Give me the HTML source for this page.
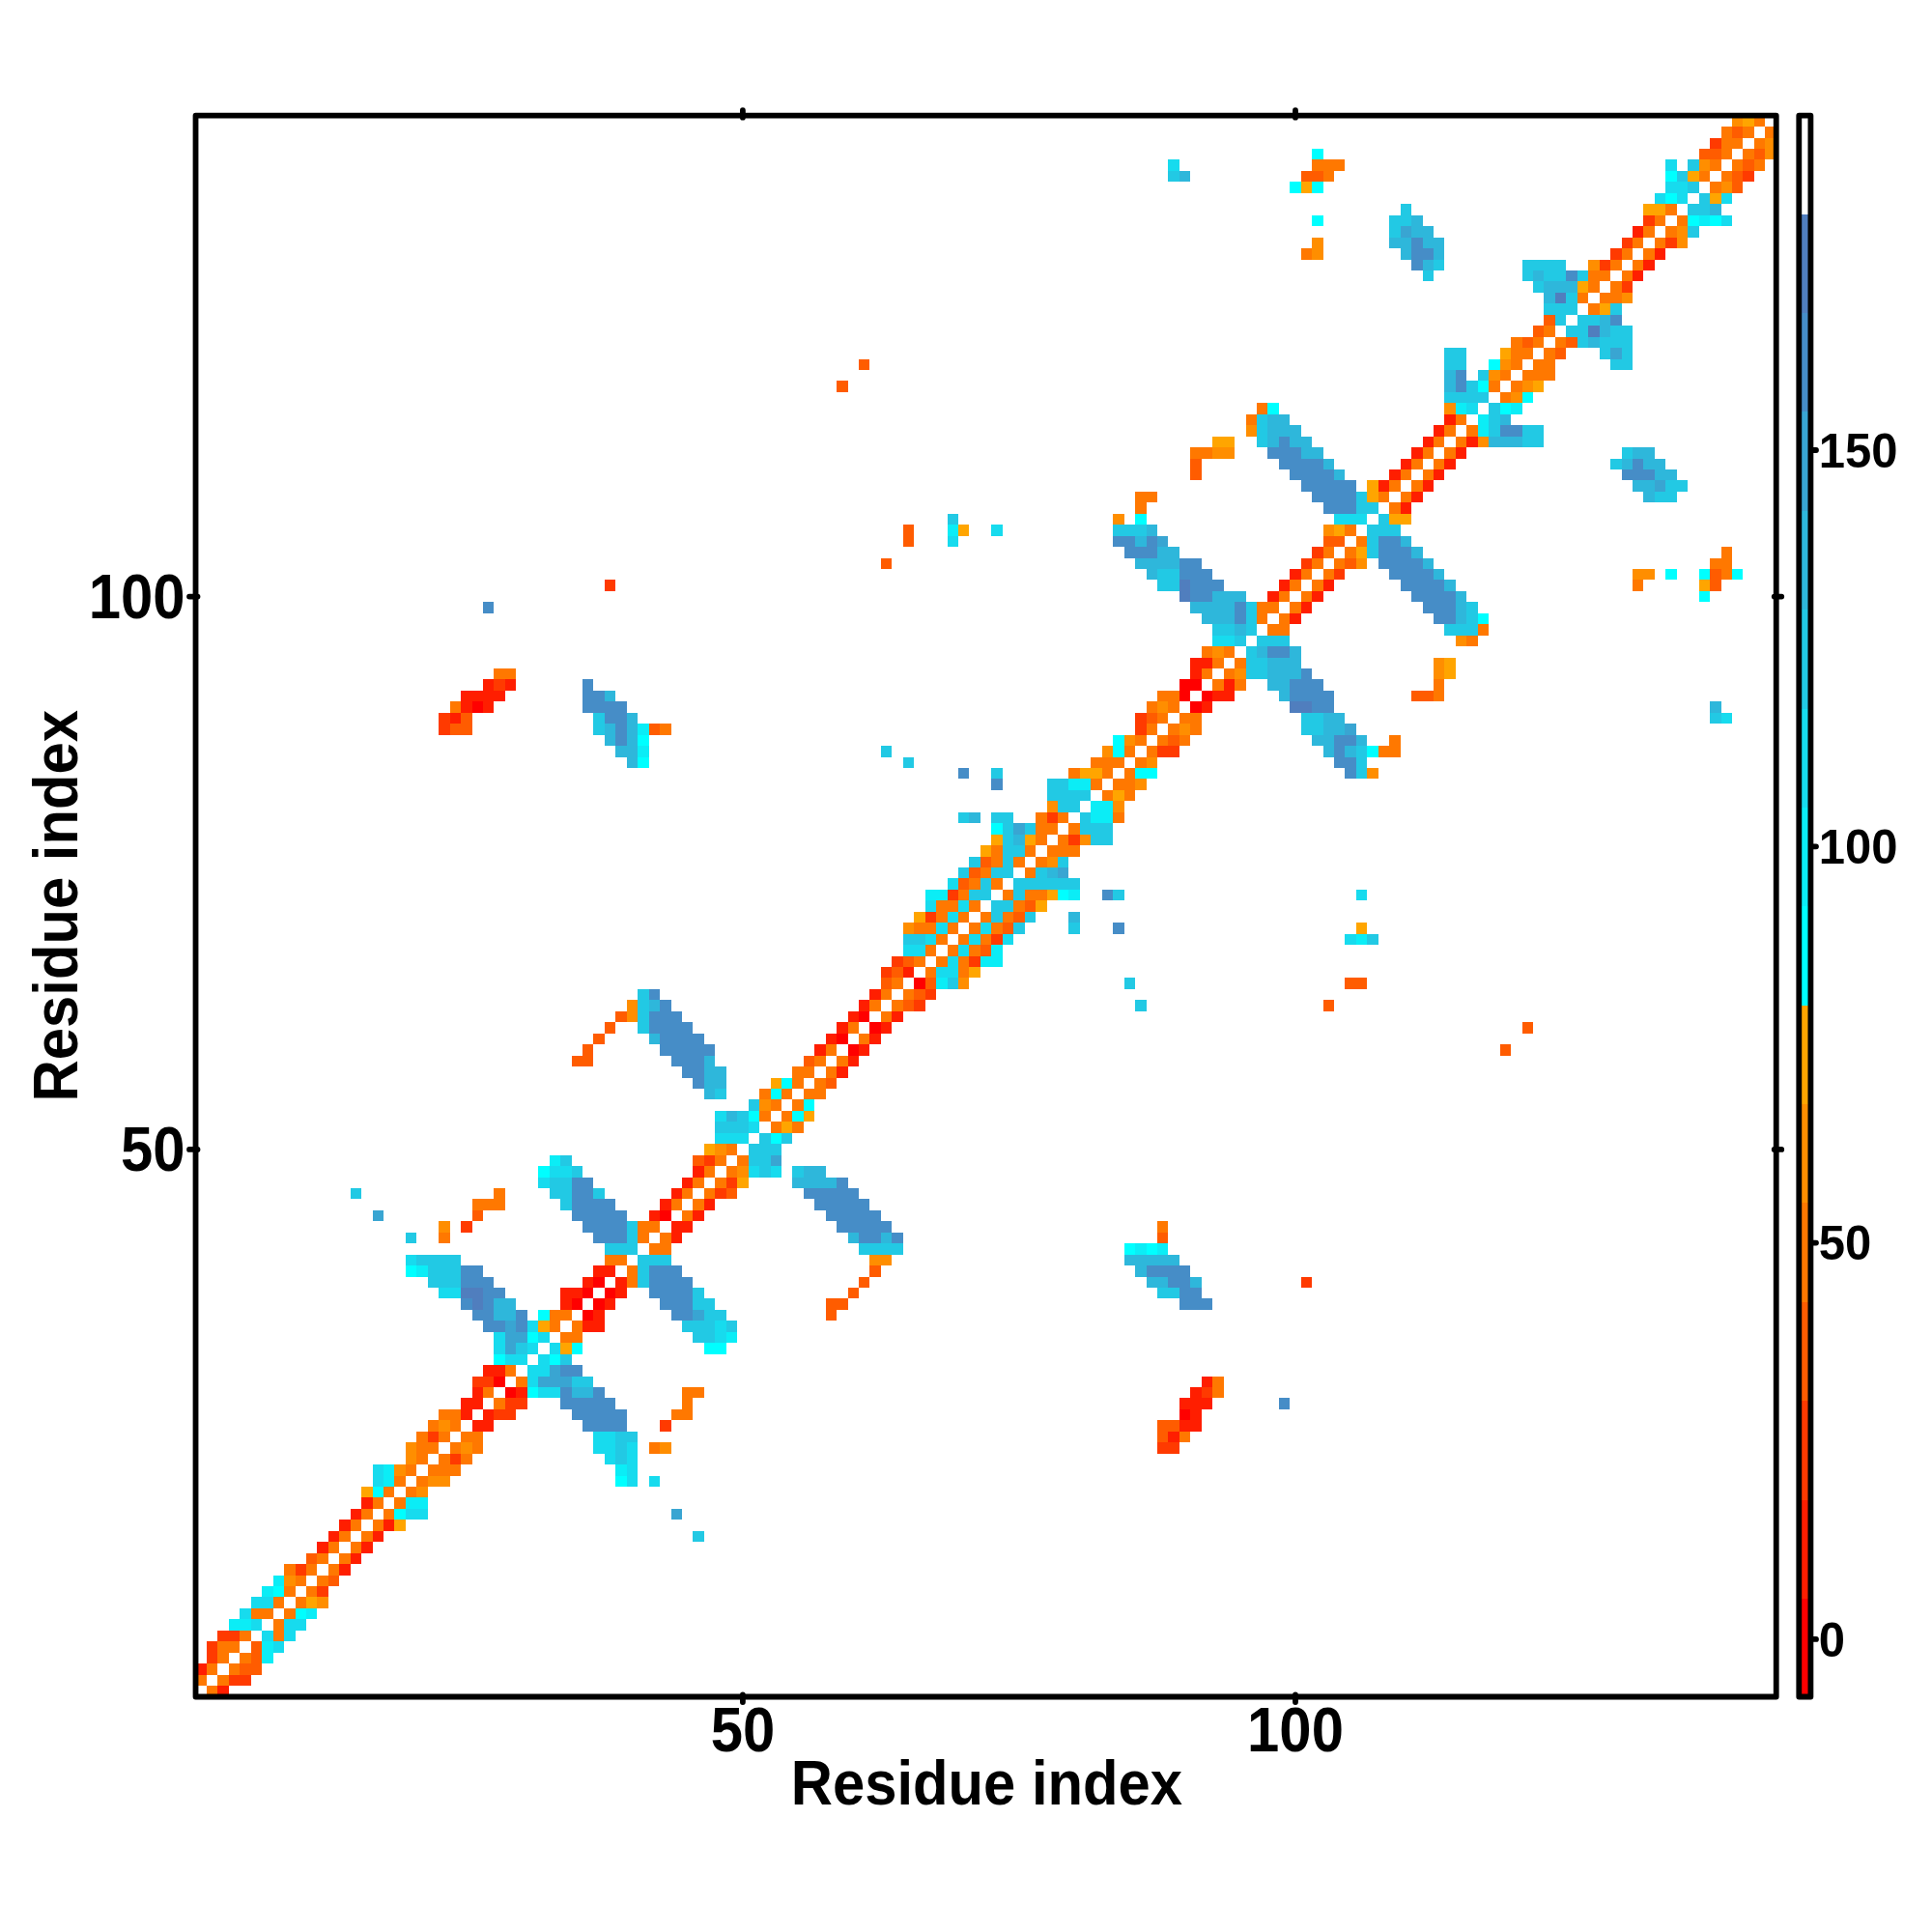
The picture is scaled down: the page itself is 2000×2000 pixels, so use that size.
<!DOCTYPE html>
<html><head><meta charset="utf-8"><style>
html,body{margin:0;padding:0;background:#fff;width:2000px;height:2000px;overflow:hidden}
svg{display:block}
</style></head><body>
<svg xmlns="http://www.w3.org/2000/svg" width="2000" height="2000" viewBox="0 0 2000 2000">
<rect width="2000" height="2000" fill="#fff"/>
<g shape-rendering="crispEdges"><rect x="213.96" y="1745.03" width="11.44" height="11.45" fill="#ff7800"/><rect x="225.40" y="1745.03" width="11.44" height="11.45" fill="#ff1e00"/><rect x="202.52" y="1733.59" width="11.44" height="11.45" fill="#ff7800"/><rect x="225.40" y="1733.59" width="11.44" height="11.45" fill="#ff7800"/><rect x="236.85" y="1733.59" width="22.88" height="11.45" fill="#ff3a00"/><rect x="202.52" y="1722.14" width="11.44" height="11.45" fill="#ff1e00"/><rect x="213.96" y="1722.14" width="11.44" height="11.45" fill="#ff7800"/><rect x="236.85" y="1722.14" width="11.44" height="11.45" fill="#ff7800"/><rect x="248.29" y="1722.14" width="22.88" height="11.45" fill="#ff5c00"/><rect x="213.96" y="1710.69" width="11.44" height="11.45" fill="#ff3a00"/><rect x="225.40" y="1710.69" width="11.44" height="11.45" fill="#ff7800"/><rect x="248.29" y="1710.69" width="11.44" height="11.45" fill="#ff7800"/><rect x="259.73" y="1710.69" width="11.44" height="11.45" fill="#ff5c00"/><rect x="271.17" y="1710.69" width="11.44" height="11.45" fill="#0bedf6"/><rect x="213.96" y="1699.25" width="11.44" height="11.45" fill="#ff3a00"/><rect x="225.40" y="1699.25" width="22.88" height="11.45" fill="#ff7800"/><rect x="259.73" y="1699.25" width="11.44" height="11.45" fill="#ff5c00"/><rect x="271.17" y="1699.25" width="11.44" height="11.45" fill="#0bedf6"/><rect x="282.61" y="1699.25" width="11.44" height="11.45" fill="#17dbee"/><rect x="225.40" y="1687.80" width="22.88" height="11.45" fill="#ff3a00"/><rect x="248.29" y="1687.80" width="11.44" height="11.45" fill="#ff7800"/><rect x="271.17" y="1687.80" width="11.44" height="11.45" fill="#17dbee"/><rect x="282.61" y="1687.80" width="11.44" height="11.45" fill="#ff7800"/><rect x="294.06" y="1687.80" width="11.44" height="11.45" fill="#17dbee"/><rect x="236.85" y="1676.36" width="22.88" height="11.45" fill="#0bedf6"/><rect x="259.73" y="1676.36" width="11.44" height="11.45" fill="#17dbee"/><rect x="282.61" y="1676.36" width="11.44" height="11.45" fill="#ff7800"/><rect x="294.06" y="1676.36" width="22.88" height="11.45" fill="#17dbee"/><rect x="248.29" y="1664.91" width="11.44" height="11.45" fill="#17dbee"/><rect x="259.73" y="1664.91" width="22.88" height="11.45" fill="#ff7800"/><rect x="294.06" y="1664.91" width="11.44" height="11.45" fill="#ff7800"/><rect x="305.50" y="1664.91" width="11.44" height="11.45" fill="#00ffff"/><rect x="316.94" y="1664.91" width="11.44" height="11.45" fill="#0bedf6"/><rect x="259.73" y="1653.46" width="22.88" height="11.45" fill="#17dbee"/><rect x="282.61" y="1653.46" width="11.44" height="11.45" fill="#ff7800"/><rect x="305.50" y="1653.46" width="11.44" height="11.45" fill="#ff7800"/><rect x="316.94" y="1653.46" width="11.44" height="11.45" fill="#ffa500"/><rect x="328.38" y="1653.46" width="11.44" height="11.45" fill="#ff8e00"/><rect x="271.17" y="1642.02" width="11.44" height="11.45" fill="#0bedf6"/><rect x="282.61" y="1642.02" width="11.44" height="11.45" fill="#00ffff"/><rect x="294.06" y="1642.02" width="11.44" height="11.45" fill="#ff7800"/><rect x="316.94" y="1642.02" width="11.44" height="11.45" fill="#ff7800"/><rect x="328.38" y="1642.02" width="11.44" height="11.45" fill="#ff3a00"/><rect x="282.61" y="1630.57" width="11.44" height="11.45" fill="#0bedf6"/><rect x="294.06" y="1630.57" width="11.44" height="11.45" fill="#ff8e00"/><rect x="305.50" y="1630.57" width="11.44" height="11.45" fill="#ff7800"/><rect x="328.38" y="1630.57" width="11.44" height="11.45" fill="#ff7800"/><rect x="339.82" y="1630.57" width="11.44" height="11.45" fill="#ff5c00"/><rect x="294.06" y="1619.13" width="11.44" height="11.45" fill="#ff7800"/><rect x="305.50" y="1619.13" width="11.44" height="11.45" fill="#ff3a00"/><rect x="316.94" y="1619.13" width="11.44" height="11.45" fill="#ff7800"/><rect x="339.82" y="1619.13" width="11.44" height="11.45" fill="#ff7800"/><rect x="351.27" y="1619.13" width="11.44" height="11.45" fill="#ff1e00"/><rect x="316.94" y="1607.68" width="11.44" height="11.45" fill="#ff5c00"/><rect x="328.38" y="1607.68" width="11.44" height="11.45" fill="#ff7800"/><rect x="351.27" y="1607.68" width="11.44" height="11.45" fill="#ff7800"/><rect x="362.71" y="1607.68" width="11.44" height="11.45" fill="#ff1e00"/><rect x="328.38" y="1596.23" width="11.44" height="11.45" fill="#ff1e00"/><rect x="339.82" y="1596.23" width="11.44" height="11.45" fill="#ff7800"/><rect x="362.71" y="1596.23" width="11.44" height="11.45" fill="#ff7800"/><rect x="374.15" y="1596.23" width="11.44" height="11.45" fill="#ff1e00"/><rect x="339.82" y="1584.79" width="11.44" height="11.45" fill="#ff1e00"/><rect x="351.27" y="1584.79" width="11.44" height="11.45" fill="#ff7800"/><rect x="374.15" y="1584.79" width="11.44" height="11.45" fill="#ff7800"/><rect x="385.59" y="1584.79" width="11.44" height="11.45" fill="#ff1e00"/><rect x="717.41" y="1584.79" width="11.44" height="11.45" fill="#22c9e4"/><rect x="351.27" y="1573.34" width="11.44" height="11.45" fill="#ff1e00"/><rect x="362.71" y="1573.34" width="11.44" height="11.45" fill="#ff7800"/><rect x="385.59" y="1573.34" width="11.44" height="11.45" fill="#ff7800"/><rect x="397.03" y="1573.34" width="11.44" height="11.45" fill="#ff1e00"/><rect x="408.48" y="1573.34" width="11.44" height="11.45" fill="#ffa500"/><rect x="362.71" y="1561.90" width="11.44" height="11.45" fill="#ff1e00"/><rect x="374.15" y="1561.90" width="11.44" height="11.45" fill="#ff7800"/><rect x="397.03" y="1561.90" width="11.44" height="11.45" fill="#ff7800"/><rect x="408.48" y="1561.90" width="11.44" height="11.45" fill="#00ffff"/><rect x="419.92" y="1561.90" width="22.88" height="11.45" fill="#17dbee"/><rect x="694.53" y="1561.90" width="11.44" height="11.45" fill="#39a5d2"/><rect x="374.15" y="1550.45" width="11.44" height="11.45" fill="#ff1e00"/><rect x="385.59" y="1550.45" width="11.44" height="11.45" fill="#ff7800"/><rect x="408.48" y="1550.45" width="11.44" height="11.45" fill="#ff7800"/><rect x="419.92" y="1550.45" width="22.88" height="11.45" fill="#0bedf6"/><rect x="374.15" y="1539.00" width="11.44" height="11.45" fill="#ffa500"/><rect x="385.59" y="1539.00" width="11.44" height="11.45" fill="#00ffff"/><rect x="397.03" y="1539.00" width="11.44" height="11.45" fill="#ff7800"/><rect x="419.92" y="1539.00" width="11.44" height="11.45" fill="#ff7800"/><rect x="431.36" y="1539.00" width="11.44" height="11.45" fill="#ff8e00"/><rect x="385.59" y="1527.56" width="11.44" height="11.45" fill="#17dbee"/><rect x="397.03" y="1527.56" width="11.44" height="11.45" fill="#0bedf6"/><rect x="408.48" y="1527.56" width="11.44" height="11.45" fill="#ff7800"/><rect x="431.36" y="1527.56" width="11.44" height="11.45" fill="#ff7800"/><rect x="442.80" y="1527.56" width="22.88" height="11.45" fill="#ff8e00"/><rect x="637.32" y="1527.56" width="11.44" height="11.45" fill="#00ffff"/><rect x="648.76" y="1527.56" width="11.44" height="11.45" fill="#17dbee"/><rect x="671.64" y="1527.56" width="11.44" height="11.45" fill="#17dbee"/><rect x="385.59" y="1516.11" width="11.44" height="11.45" fill="#17dbee"/><rect x="397.03" y="1516.11" width="11.44" height="11.45" fill="#0bedf6"/><rect x="408.48" y="1516.11" width="11.44" height="11.45" fill="#ff8e00"/><rect x="419.92" y="1516.11" width="11.44" height="11.45" fill="#ff7800"/><rect x="442.80" y="1516.11" width="34.33" height="11.45" fill="#ff7800"/><rect x="637.32" y="1516.11" width="11.44" height="11.45" fill="#0bedf6"/><rect x="648.76" y="1516.11" width="11.44" height="11.45" fill="#17dbee"/><rect x="419.92" y="1504.67" width="11.44" height="11.45" fill="#ff8e00"/><rect x="431.36" y="1504.67" width="11.44" height="11.45" fill="#ff7800"/><rect x="454.24" y="1504.67" width="11.44" height="11.45" fill="#ff7800"/><rect x="465.69" y="1504.67" width="11.44" height="11.45" fill="#ff3a00"/><rect x="477.13" y="1504.67" width="11.44" height="11.45" fill="#ff7800"/><rect x="625.88" y="1504.67" width="11.44" height="11.45" fill="#17dbee"/><rect x="637.32" y="1504.67" width="11.44" height="11.45" fill="#22c9e4"/><rect x="648.76" y="1504.67" width="11.44" height="11.45" fill="#17dbee"/><rect x="419.92" y="1493.22" width="11.44" height="11.45" fill="#ff8e00"/><rect x="431.36" y="1493.22" width="22.88" height="11.45" fill="#ff7800"/><rect x="465.69" y="1493.22" width="11.44" height="11.45" fill="#ff7800"/><rect x="477.13" y="1493.22" width="11.44" height="11.45" fill="#ff8e00"/><rect x="488.57" y="1493.22" width="11.44" height="11.45" fill="#ff7800"/><rect x="614.43" y="1493.22" width="22.88" height="11.45" fill="#17dbee"/><rect x="637.32" y="1493.22" width="11.44" height="11.45" fill="#22c9e4"/><rect x="648.76" y="1493.22" width="11.44" height="11.45" fill="#17dbee"/><rect x="671.64" y="1493.22" width="11.44" height="11.45" fill="#ff7800"/><rect x="683.09" y="1493.22" width="11.44" height="11.45" fill="#ff8e00"/><rect x="1197.97" y="1493.22" width="22.88" height="11.45" fill="#ff3a00"/><rect x="431.36" y="1481.77" width="11.44" height="11.45" fill="#ff7800"/><rect x="442.80" y="1481.77" width="11.44" height="11.45" fill="#ff3a00"/><rect x="454.24" y="1481.77" width="11.44" height="11.45" fill="#ff7800"/><rect x="477.13" y="1481.77" width="22.88" height="11.45" fill="#ff7800"/><rect x="614.43" y="1481.77" width="22.88" height="11.45" fill="#17dbee"/><rect x="637.32" y="1481.77" width="22.88" height="11.45" fill="#22c9e4"/><rect x="1197.97" y="1481.77" width="11.44" height="11.45" fill="#ff5c00"/><rect x="1209.42" y="1481.77" width="11.44" height="11.45" fill="#ff1e00"/><rect x="1220.86" y="1481.77" width="11.44" height="11.45" fill="#ff7800"/><rect x="442.80" y="1470.33" width="11.44" height="11.45" fill="#ff7800"/><rect x="454.24" y="1470.33" width="11.44" height="11.45" fill="#ff8e00"/><rect x="465.69" y="1470.33" width="11.44" height="11.45" fill="#ff7800"/><rect x="488.57" y="1470.33" width="22.88" height="11.45" fill="#ff1e00"/><rect x="602.99" y="1470.33" width="45.77" height="11.45" fill="#468dc7"/><rect x="683.09" y="1470.33" width="11.44" height="11.45" fill="#ff3a00"/><rect x="1197.97" y="1470.33" width="22.88" height="11.45" fill="#ff5c00"/><rect x="1220.86" y="1470.33" width="22.88" height="11.45" fill="#ff1e00"/><rect x="454.24" y="1458.88" width="22.88" height="11.45" fill="#ff7800"/><rect x="477.13" y="1458.88" width="11.44" height="11.45" fill="#ff1e00"/><rect x="500.01" y="1458.88" width="11.44" height="11.45" fill="#ff1e00"/><rect x="511.45" y="1458.88" width="22.88" height="11.45" fill="#ff3a00"/><rect x="591.55" y="1458.88" width="57.21" height="11.45" fill="#468dc7"/><rect x="694.53" y="1458.88" width="22.88" height="11.45" fill="#ff7800"/><rect x="1220.86" y="1458.88" width="11.44" height="11.45" fill="#ff0000"/><rect x="1232.30" y="1458.88" width="11.44" height="11.45" fill="#ff1e00"/><rect x="477.13" y="1447.44" width="22.88" height="11.45" fill="#ff1e00"/><rect x="511.45" y="1447.44" width="11.44" height="11.45" fill="#ff7800"/><rect x="522.90" y="1447.44" width="22.88" height="11.45" fill="#ff3a00"/><rect x="580.11" y="1447.44" width="57.21" height="11.45" fill="#468dc7"/><rect x="705.97" y="1447.44" width="11.44" height="11.45" fill="#ff7800"/><rect x="1220.86" y="1447.44" width="34.33" height="11.45" fill="#ff1e00"/><rect x="1323.84" y="1447.44" width="11.44" height="11.45" fill="#468dc7"/><rect x="488.57" y="1435.99" width="11.44" height="11.45" fill="#ff1e00"/><rect x="500.01" y="1435.99" width="11.44" height="11.45" fill="#ff7800"/><rect x="522.90" y="1435.99" width="11.44" height="11.45" fill="#ff0000"/><rect x="534.34" y="1435.99" width="11.44" height="11.45" fill="#ff1e00"/><rect x="545.78" y="1435.99" width="11.44" height="11.45" fill="#00ffff"/><rect x="557.22" y="1435.99" width="22.88" height="11.45" fill="#17dbee"/><rect x="580.11" y="1435.99" width="11.44" height="11.45" fill="#468dc7"/><rect x="591.55" y="1435.99" width="22.88" height="11.45" fill="#2eb7db"/><rect x="614.43" y="1435.99" width="11.44" height="11.45" fill="#468dc7"/><rect x="705.97" y="1435.99" width="22.88" height="11.45" fill="#ff7800"/><rect x="1232.30" y="1435.99" width="11.44" height="11.45" fill="#ff1e00"/><rect x="1243.74" y="1435.99" width="11.44" height="11.45" fill="#ff3a00"/><rect x="1255.18" y="1435.99" width="11.44" height="11.45" fill="#ff7800"/><rect x="488.57" y="1424.54" width="22.88" height="11.45" fill="#ff3a00"/><rect x="511.45" y="1424.54" width="11.44" height="11.45" fill="#ff0000"/><rect x="534.34" y="1424.54" width="11.44" height="11.45" fill="#ff7800"/><rect x="545.78" y="1424.54" width="11.44" height="11.45" fill="#17dbee"/><rect x="557.22" y="1424.54" width="34.33" height="11.45" fill="#39a5d2"/><rect x="591.55" y="1424.54" width="22.88" height="11.45" fill="#22c9e4"/><rect x="1243.74" y="1424.54" width="11.44" height="11.45" fill="#ff1e00"/><rect x="1255.18" y="1424.54" width="11.44" height="11.45" fill="#ff7800"/><rect x="500.01" y="1413.10" width="22.88" height="11.45" fill="#ff1e00"/><rect x="522.90" y="1413.10" width="11.44" height="11.45" fill="#ff7800"/><rect x="545.78" y="1413.10" width="22.88" height="11.45" fill="#17dbee"/><rect x="568.66" y="1413.10" width="11.44" height="11.45" fill="#39a5d2"/><rect x="580.11" y="1413.10" width="22.88" height="11.45" fill="#468dc7"/><rect x="511.45" y="1401.65" width="11.44" height="11.45" fill="#00ffff"/><rect x="522.90" y="1401.65" width="22.88" height="11.45" fill="#17dbee"/><rect x="557.22" y="1401.65" width="11.44" height="11.45" fill="#17dbee"/><rect x="568.66" y="1401.65" width="11.44" height="11.45" fill="#00ffff"/><rect x="580.11" y="1401.65" width="11.44" height="11.45" fill="#22c9e4"/><rect x="511.45" y="1390.21" width="11.44" height="11.45" fill="#17dbee"/><rect x="522.90" y="1390.21" width="11.44" height="11.45" fill="#39a5d2"/><rect x="534.34" y="1390.21" width="11.44" height="11.45" fill="#22c9e4"/><rect x="545.78" y="1390.21" width="11.44" height="11.45" fill="#17dbee"/><rect x="568.66" y="1390.21" width="11.44" height="11.45" fill="#17dbee"/><rect x="580.11" y="1390.21" width="11.44" height="11.45" fill="#ffa500"/><rect x="591.55" y="1390.21" width="11.44" height="11.45" fill="#00ffff"/><rect x="728.85" y="1390.21" width="22.88" height="11.45" fill="#00ffff"/><rect x="511.45" y="1378.76" width="11.44" height="11.45" fill="#17dbee"/><rect x="522.90" y="1378.76" width="22.88" height="11.45" fill="#39a5d2"/><rect x="545.78" y="1378.76" width="11.44" height="11.45" fill="#00ffff"/><rect x="557.22" y="1378.76" width="11.44" height="11.45" fill="#17dbee"/><rect x="580.11" y="1378.76" width="22.88" height="11.45" fill="#ff7800"/><rect x="717.41" y="1378.76" width="22.88" height="11.45" fill="#22c9e4"/><rect x="740.29" y="1378.76" width="11.44" height="11.45" fill="#17dbee"/><rect x="751.74" y="1378.76" width="11.44" height="11.45" fill="#0bedf6"/><rect x="500.01" y="1367.31" width="22.88" height="11.45" fill="#468dc7"/><rect x="522.90" y="1367.31" width="11.44" height="11.45" fill="#39a5d2"/><rect x="534.34" y="1367.31" width="11.44" height="11.45" fill="#468dc7"/><rect x="545.78" y="1367.31" width="11.44" height="11.45" fill="#17dbee"/><rect x="557.22" y="1367.31" width="11.44" height="11.45" fill="#ffa500"/><rect x="568.66" y="1367.31" width="11.44" height="11.45" fill="#ff7800"/><rect x="591.55" y="1367.31" width="11.44" height="11.45" fill="#ff7800"/><rect x="602.99" y="1367.31" width="22.88" height="11.45" fill="#ff1e00"/><rect x="705.97" y="1367.31" width="34.33" height="11.45" fill="#22c9e4"/><rect x="740.29" y="1367.31" width="11.44" height="11.45" fill="#17dbee"/><rect x="751.74" y="1367.31" width="11.44" height="11.45" fill="#22c9e4"/><rect x="488.57" y="1355.87" width="22.88" height="11.45" fill="#468dc7"/><rect x="511.45" y="1355.87" width="22.88" height="11.45" fill="#2eb7db"/><rect x="534.34" y="1355.87" width="11.44" height="11.45" fill="#468dc7"/><rect x="557.22" y="1355.87" width="11.44" height="11.45" fill="#00ffff"/><rect x="568.66" y="1355.87" width="22.88" height="11.45" fill="#ff7800"/><rect x="602.99" y="1355.87" width="11.44" height="11.45" fill="#ff0000"/><rect x="614.43" y="1355.87" width="11.44" height="11.45" fill="#ff1e00"/><rect x="694.53" y="1355.87" width="22.88" height="11.45" fill="#468dc7"/><rect x="717.41" y="1355.87" width="11.44" height="11.45" fill="#39a5d2"/><rect x="728.85" y="1355.87" width="22.88" height="11.45" fill="#22c9e4"/><rect x="854.71" y="1355.87" width="11.44" height="11.45" fill="#ff5c00"/><rect x="477.13" y="1344.42" width="11.44" height="11.45" fill="#468dc7"/><rect x="488.57" y="1344.42" width="11.44" height="11.45" fill="#507ebe"/><rect x="500.01" y="1344.42" width="11.44" height="11.45" fill="#468dc7"/><rect x="511.45" y="1344.42" width="22.88" height="11.45" fill="#2eb7db"/><rect x="580.11" y="1344.42" width="11.44" height="11.45" fill="#ff1e00"/><rect x="591.55" y="1344.42" width="11.44" height="11.45" fill="#ff0000"/><rect x="614.43" y="1344.42" width="11.44" height="11.45" fill="#ff0000"/><rect x="625.88" y="1344.42" width="11.44" height="11.45" fill="#ff1e00"/><rect x="683.09" y="1344.42" width="34.33" height="11.45" fill="#468dc7"/><rect x="717.41" y="1344.42" width="22.88" height="11.45" fill="#22c9e4"/><rect x="854.71" y="1344.42" width="22.88" height="11.45" fill="#ff5c00"/><rect x="1220.86" y="1344.42" width="34.33" height="11.45" fill="#468dc7"/><rect x="454.24" y="1332.98" width="22.88" height="11.45" fill="#17dbee"/><rect x="477.13" y="1332.98" width="22.88" height="11.45" fill="#507ebe"/><rect x="500.01" y="1332.98" width="22.88" height="11.45" fill="#468dc7"/><rect x="580.11" y="1332.98" width="22.88" height="11.45" fill="#ff1e00"/><rect x="602.99" y="1332.98" width="11.44" height="11.45" fill="#ff0000"/><rect x="625.88" y="1332.98" width="11.44" height="11.45" fill="#ff0000"/><rect x="637.32" y="1332.98" width="11.44" height="11.45" fill="#ff1e00"/><rect x="671.64" y="1332.98" width="45.77" height="11.45" fill="#468dc7"/><rect x="717.41" y="1332.98" width="11.44" height="11.45" fill="#22c9e4"/><rect x="877.60" y="1332.98" width="11.44" height="11.45" fill="#ff5c00"/><rect x="1197.97" y="1332.98" width="22.88" height="11.45" fill="#22c9e4"/><rect x="1220.86" y="1332.98" width="22.88" height="11.45" fill="#468dc7"/><rect x="442.80" y="1321.53" width="34.33" height="11.45" fill="#22c9e4"/><rect x="477.13" y="1321.53" width="34.33" height="11.45" fill="#468dc7"/><rect x="602.99" y="1321.53" width="11.44" height="11.45" fill="#ff1e00"/><rect x="614.43" y="1321.53" width="11.44" height="11.45" fill="#ff0000"/><rect x="637.32" y="1321.53" width="11.44" height="11.45" fill="#ff1e00"/><rect x="648.76" y="1321.53" width="11.44" height="11.45" fill="#ff7800"/><rect x="660.20" y="1321.53" width="11.44" height="11.45" fill="#22c9e4"/><rect x="671.64" y="1321.53" width="45.77" height="11.45" fill="#468dc7"/><rect x="889.04" y="1321.53" width="11.44" height="11.45" fill="#ff5c00"/><rect x="1186.53" y="1321.53" width="22.88" height="11.45" fill="#2eb7db"/><rect x="1209.42" y="1321.53" width="22.88" height="11.45" fill="#468dc7"/><rect x="1232.30" y="1321.53" width="11.44" height="11.45" fill="#2eb7db"/><rect x="1346.72" y="1321.53" width="11.44" height="11.45" fill="#ff3a00"/><rect x="419.92" y="1310.08" width="11.44" height="11.45" fill="#00ffff"/><rect x="431.36" y="1310.08" width="11.44" height="11.45" fill="#0bedf6"/><rect x="442.80" y="1310.08" width="34.33" height="11.45" fill="#22c9e4"/><rect x="477.13" y="1310.08" width="22.88" height="11.45" fill="#468dc7"/><rect x="614.43" y="1310.08" width="22.88" height="11.45" fill="#ff1e00"/><rect x="648.76" y="1310.08" width="11.44" height="11.45" fill="#ff7800"/><rect x="660.20" y="1310.08" width="11.44" height="11.45" fill="#22c9e4"/><rect x="671.64" y="1310.08" width="34.33" height="11.45" fill="#468dc7"/><rect x="900.48" y="1310.08" width="11.44" height="11.45" fill="#ff5c00"/><rect x="1175.09" y="1310.08" width="11.44" height="11.45" fill="#2eb7db"/><rect x="1186.53" y="1310.08" width="45.77" height="11.45" fill="#468dc7"/><rect x="419.92" y="1298.64" width="11.44" height="11.45" fill="#17dbee"/><rect x="431.36" y="1298.64" width="45.77" height="11.45" fill="#22c9e4"/><rect x="625.88" y="1298.64" width="22.88" height="11.45" fill="#ff7800"/><rect x="660.20" y="1298.64" width="34.33" height="11.45" fill="#22c9e4"/><rect x="900.48" y="1298.64" width="22.88" height="11.45" fill="#ff8e00"/><rect x="1163.65" y="1298.64" width="57.21" height="11.45" fill="#2eb7db"/><rect x="625.88" y="1287.19" width="34.33" height="11.45" fill="#22c9e4"/><rect x="671.64" y="1287.19" width="22.88" height="11.45" fill="#ff7800"/><rect x="889.04" y="1287.19" width="45.77" height="11.45" fill="#22c9e4"/><rect x="1163.65" y="1287.19" width="11.44" height="11.45" fill="#00ffff"/><rect x="1175.09" y="1287.19" width="11.44" height="11.45" fill="#0bedf6"/><rect x="1186.53" y="1287.19" width="11.44" height="11.45" fill="#00ffff"/><rect x="1197.97" y="1287.19" width="11.44" height="11.45" fill="#0bedf6"/><rect x="419.92" y="1275.75" width="11.44" height="11.45" fill="#22c9e4"/><rect x="454.24" y="1275.75" width="11.44" height="11.45" fill="#ff7800"/><rect x="614.43" y="1275.75" width="34.33" height="11.45" fill="#468dc7"/><rect x="648.76" y="1275.75" width="11.44" height="11.45" fill="#22c9e4"/><rect x="660.20" y="1275.75" width="11.44" height="11.45" fill="#ff7800"/><rect x="683.09" y="1275.75" width="11.44" height="11.45" fill="#ff7800"/><rect x="694.53" y="1275.75" width="11.44" height="11.45" fill="#ff1e00"/><rect x="877.60" y="1275.75" width="11.44" height="11.45" fill="#2eb7db"/><rect x="889.04" y="1275.75" width="22.88" height="11.45" fill="#468dc7"/><rect x="911.92" y="1275.75" width="11.44" height="11.45" fill="#2eb7db"/><rect x="923.37" y="1275.75" width="11.44" height="11.45" fill="#468dc7"/><rect x="1197.97" y="1275.75" width="11.44" height="11.45" fill="#ff5c00"/><rect x="454.24" y="1264.30" width="11.44" height="11.45" fill="#ff8e00"/><rect x="477.13" y="1264.30" width="11.44" height="11.45" fill="#ff3a00"/><rect x="602.99" y="1264.30" width="45.77" height="11.45" fill="#468dc7"/><rect x="648.76" y="1264.30" width="11.44" height="11.45" fill="#22c9e4"/><rect x="660.20" y="1264.30" width="22.88" height="11.45" fill="#ff7800"/><rect x="694.53" y="1264.30" width="22.88" height="11.45" fill="#ff1e00"/><rect x="866.16" y="1264.30" width="57.21" height="11.45" fill="#468dc7"/><rect x="1197.97" y="1264.30" width="11.44" height="11.45" fill="#ff7800"/><rect x="385.59" y="1252.85" width="11.44" height="11.45" fill="#39a5d2"/><rect x="488.57" y="1252.85" width="11.44" height="11.45" fill="#ff5c00"/><rect x="591.55" y="1252.85" width="57.21" height="11.45" fill="#468dc7"/><rect x="671.64" y="1252.85" width="11.44" height="11.45" fill="#ff1e00"/><rect x="683.09" y="1252.85" width="11.44" height="11.45" fill="#ff0000"/><rect x="705.97" y="1252.85" width="11.44" height="11.45" fill="#ff7800"/><rect x="717.41" y="1252.85" width="11.44" height="11.45" fill="#ff1e00"/><rect x="854.71" y="1252.85" width="57.21" height="11.45" fill="#468dc7"/><rect x="488.57" y="1241.41" width="34.33" height="11.45" fill="#ff7800"/><rect x="580.11" y="1241.41" width="11.44" height="11.45" fill="#22c9e4"/><rect x="591.55" y="1241.41" width="45.77" height="11.45" fill="#468dc7"/><rect x="683.09" y="1241.41" width="11.44" height="11.45" fill="#ff1e00"/><rect x="694.53" y="1241.41" width="11.44" height="11.45" fill="#ff7800"/><rect x="717.41" y="1241.41" width="11.44" height="11.45" fill="#ff7800"/><rect x="728.85" y="1241.41" width="11.44" height="11.45" fill="#ff1e00"/><rect x="843.27" y="1241.41" width="57.21" height="11.45" fill="#468dc7"/><rect x="362.71" y="1229.96" width="11.44" height="11.45" fill="#22c9e4"/><rect x="511.45" y="1229.96" width="11.44" height="11.45" fill="#ff7800"/><rect x="568.66" y="1229.96" width="22.88" height="11.45" fill="#22c9e4"/><rect x="591.55" y="1229.96" width="22.88" height="11.45" fill="#468dc7"/><rect x="614.43" y="1229.96" width="11.44" height="11.45" fill="#22c9e4"/><rect x="694.53" y="1229.96" width="11.44" height="11.45" fill="#ff1e00"/><rect x="705.97" y="1229.96" width="11.44" height="11.45" fill="#ff7800"/><rect x="728.85" y="1229.96" width="11.44" height="11.45" fill="#ff7800"/><rect x="740.29" y="1229.96" width="11.44" height="11.45" fill="#ff3a00"/><rect x="751.74" y="1229.96" width="11.44" height="11.45" fill="#ff5c00"/><rect x="831.83" y="1229.96" width="57.21" height="11.45" fill="#468dc7"/><rect x="557.22" y="1218.52" width="11.44" height="11.45" fill="#17dbee"/><rect x="568.66" y="1218.52" width="22.88" height="11.45" fill="#22c9e4"/><rect x="591.55" y="1218.52" width="22.88" height="11.45" fill="#468dc7"/><rect x="705.97" y="1218.52" width="11.44" height="11.45" fill="#ff1e00"/><rect x="717.41" y="1218.52" width="11.44" height="11.45" fill="#ff7800"/><rect x="740.29" y="1218.52" width="11.44" height="11.45" fill="#ff7800"/><rect x="751.74" y="1218.52" width="11.44" height="11.45" fill="#ff3a00"/><rect x="763.18" y="1218.52" width="11.44" height="11.45" fill="#ffa500"/><rect x="820.39" y="1218.52" width="45.77" height="11.45" fill="#2eb7db"/><rect x="866.16" y="1218.52" width="11.44" height="11.45" fill="#468dc7"/><rect x="557.22" y="1207.07" width="11.44" height="11.45" fill="#00ffff"/><rect x="568.66" y="1207.07" width="22.88" height="11.45" fill="#17dbee"/><rect x="591.55" y="1207.07" width="11.44" height="11.45" fill="#22c9e4"/><rect x="717.41" y="1207.07" width="11.44" height="11.45" fill="#ff1e00"/><rect x="728.85" y="1207.07" width="11.44" height="11.45" fill="#ff7800"/><rect x="751.74" y="1207.07" width="11.44" height="11.45" fill="#ff7800"/><rect x="763.18" y="1207.07" width="11.44" height="11.45" fill="#ff8e00"/><rect x="774.62" y="1207.07" width="11.44" height="11.45" fill="#17dbee"/><rect x="786.06" y="1207.07" width="11.44" height="11.45" fill="#22c9e4"/><rect x="797.50" y="1207.07" width="11.44" height="11.45" fill="#17dbee"/><rect x="820.39" y="1207.07" width="11.44" height="11.45" fill="#22c9e4"/><rect x="831.83" y="1207.07" width="22.88" height="11.45" fill="#2eb7db"/><rect x="568.66" y="1195.62" width="11.44" height="11.45" fill="#0bedf6"/><rect x="580.11" y="1195.62" width="11.44" height="11.45" fill="#22c9e4"/><rect x="717.41" y="1195.62" width="11.44" height="11.45" fill="#ff5c00"/><rect x="728.85" y="1195.62" width="11.44" height="11.45" fill="#ff3a00"/><rect x="740.29" y="1195.62" width="11.44" height="11.45" fill="#ff7800"/><rect x="763.18" y="1195.62" width="11.44" height="11.45" fill="#ff7800"/><rect x="774.62" y="1195.62" width="22.88" height="11.45" fill="#22c9e4"/><rect x="797.50" y="1195.62" width="11.44" height="11.45" fill="#39a5d2"/><rect x="728.85" y="1184.18" width="11.44" height="11.45" fill="#ffa500"/><rect x="740.29" y="1184.18" width="11.44" height="11.45" fill="#ff8e00"/><rect x="751.74" y="1184.18" width="11.44" height="11.45" fill="#ff7800"/><rect x="774.62" y="1184.18" width="34.33" height="11.45" fill="#22c9e4"/><rect x="740.29" y="1172.73" width="34.33" height="11.45" fill="#17dbee"/><rect x="786.06" y="1172.73" width="11.44" height="11.45" fill="#22c9e4"/><rect x="797.50" y="1172.73" width="11.44" height="11.45" fill="#00ffff"/><rect x="808.95" y="1172.73" width="11.44" height="11.45" fill="#22c9e4"/><rect x="740.29" y="1161.29" width="34.33" height="11.45" fill="#22c9e4"/><rect x="774.62" y="1161.29" width="11.44" height="11.45" fill="#17dbee"/><rect x="797.50" y="1161.29" width="11.44" height="11.45" fill="#ff7800"/><rect x="808.95" y="1161.29" width="11.44" height="11.45" fill="#ffa500"/><rect x="820.39" y="1161.29" width="11.44" height="11.45" fill="#ff7800"/><rect x="740.29" y="1149.84" width="11.44" height="11.45" fill="#17dbee"/><rect x="751.74" y="1149.84" width="11.44" height="11.45" fill="#2eb7db"/><rect x="763.18" y="1149.84" width="11.44" height="11.45" fill="#22c9e4"/><rect x="774.62" y="1149.84" width="11.44" height="11.45" fill="#00ffff"/><rect x="786.06" y="1149.84" width="11.44" height="11.45" fill="#ff7800"/><rect x="808.95" y="1149.84" width="11.44" height="11.45" fill="#ff7800"/><rect x="820.39" y="1149.84" width="11.44" height="11.45" fill="#00ffff"/><rect x="831.83" y="1149.84" width="11.44" height="11.45" fill="#ffa500"/><rect x="774.62" y="1138.39" width="11.44" height="11.45" fill="#22c9e4"/><rect x="786.06" y="1138.39" width="11.44" height="11.45" fill="#ff8e00"/><rect x="797.50" y="1138.39" width="11.44" height="11.45" fill="#ff7800"/><rect x="820.39" y="1138.39" width="11.44" height="11.45" fill="#ff7800"/><rect x="831.83" y="1138.39" width="11.44" height="11.45" fill="#00ffff"/><rect x="728.85" y="1126.95" width="11.44" height="11.45" fill="#2eb7db"/><rect x="740.29" y="1126.95" width="11.44" height="11.45" fill="#22c9e4"/><rect x="786.06" y="1126.95" width="11.44" height="11.45" fill="#ff7800"/><rect x="797.50" y="1126.95" width="11.44" height="11.45" fill="#00ffff"/><rect x="808.95" y="1126.95" width="11.44" height="11.45" fill="#ff7800"/><rect x="831.83" y="1126.95" width="22.88" height="11.45" fill="#ff7800"/><rect x="717.41" y="1115.50" width="11.44" height="11.45" fill="#468dc7"/><rect x="728.85" y="1115.50" width="22.88" height="11.45" fill="#2eb7db"/><rect x="797.50" y="1115.50" width="11.44" height="11.45" fill="#ffa500"/><rect x="808.95" y="1115.50" width="11.44" height="11.45" fill="#00ffff"/><rect x="820.39" y="1115.50" width="11.44" height="11.45" fill="#ff7800"/><rect x="843.27" y="1115.50" width="11.44" height="11.45" fill="#ff7800"/><rect x="854.71" y="1115.50" width="11.44" height="11.45" fill="#ff5c00"/><rect x="705.97" y="1104.06" width="22.88" height="11.45" fill="#468dc7"/><rect x="728.85" y="1104.06" width="22.88" height="11.45" fill="#2eb7db"/><rect x="820.39" y="1104.06" width="22.88" height="11.45" fill="#ff7800"/><rect x="854.71" y="1104.06" width="11.44" height="11.45" fill="#ff7800"/><rect x="866.16" y="1104.06" width="11.44" height="11.45" fill="#ff1e00"/><rect x="591.55" y="1092.61" width="22.88" height="11.45" fill="#ff5c00"/><rect x="694.53" y="1092.61" width="34.33" height="11.45" fill="#468dc7"/><rect x="728.85" y="1092.61" width="11.44" height="11.45" fill="#2eb7db"/><rect x="831.83" y="1092.61" width="11.44" height="11.45" fill="#ff5c00"/><rect x="843.27" y="1092.61" width="11.44" height="11.45" fill="#ff7800"/><rect x="866.16" y="1092.61" width="11.44" height="11.45" fill="#ff7800"/><rect x="877.60" y="1092.61" width="11.44" height="11.45" fill="#ff1e00"/><rect x="602.99" y="1081.16" width="11.44" height="11.45" fill="#ff5c00"/><rect x="683.09" y="1081.16" width="57.21" height="11.45" fill="#468dc7"/><rect x="843.27" y="1081.16" width="11.44" height="11.45" fill="#ff1e00"/><rect x="854.71" y="1081.16" width="11.44" height="11.45" fill="#ff7800"/><rect x="877.60" y="1081.16" width="11.44" height="11.45" fill="#ff0000"/><rect x="889.04" y="1081.16" width="11.44" height="11.45" fill="#ff1e00"/><rect x="1552.68" y="1081.16" width="11.44" height="11.45" fill="#ff5c00"/><rect x="614.43" y="1069.72" width="11.44" height="11.45" fill="#ff5c00"/><rect x="671.64" y="1069.72" width="11.44" height="11.45" fill="#2eb7db"/><rect x="683.09" y="1069.72" width="45.77" height="11.45" fill="#468dc7"/><rect x="854.71" y="1069.72" width="11.44" height="11.45" fill="#ff1e00"/><rect x="866.16" y="1069.72" width="11.44" height="11.45" fill="#ff0000"/><rect x="889.04" y="1069.72" width="11.44" height="11.45" fill="#ff7800"/><rect x="900.48" y="1069.72" width="11.44" height="11.45" fill="#ff1e00"/><rect x="625.88" y="1058.27" width="11.44" height="11.45" fill="#ff5c00"/><rect x="660.20" y="1058.27" width="11.44" height="11.45" fill="#22c9e4"/><rect x="671.64" y="1058.27" width="45.77" height="11.45" fill="#468dc7"/><rect x="866.16" y="1058.27" width="11.44" height="11.45" fill="#ff1e00"/><rect x="877.60" y="1058.27" width="11.44" height="11.45" fill="#ff7800"/><rect x="900.48" y="1058.27" width="11.44" height="11.45" fill="#ff0000"/><rect x="911.92" y="1058.27" width="11.44" height="11.45" fill="#ff1e00"/><rect x="1575.56" y="1058.27" width="11.44" height="11.45" fill="#ff5c00"/><rect x="637.32" y="1046.83" width="11.44" height="11.45" fill="#ff5c00"/><rect x="648.76" y="1046.83" width="11.44" height="11.45" fill="#ff8e00"/><rect x="660.20" y="1046.83" width="11.44" height="11.45" fill="#22c9e4"/><rect x="671.64" y="1046.83" width="34.33" height="11.45" fill="#468dc7"/><rect x="877.60" y="1046.83" width="11.44" height="11.45" fill="#ff1e00"/><rect x="889.04" y="1046.83" width="11.44" height="11.45" fill="#ff0000"/><rect x="911.92" y="1046.83" width="11.44" height="11.45" fill="#ff7800"/><rect x="923.37" y="1046.83" width="11.44" height="11.45" fill="#ff1e00"/><rect x="648.76" y="1035.38" width="11.44" height="11.45" fill="#ff8e00"/><rect x="660.20" y="1035.38" width="11.44" height="11.45" fill="#22c9e4"/><rect x="671.64" y="1035.38" width="11.44" height="11.45" fill="#2eb7db"/><rect x="683.09" y="1035.38" width="11.44" height="11.45" fill="#468dc7"/><rect x="889.04" y="1035.38" width="11.44" height="11.45" fill="#ff1e00"/><rect x="900.48" y="1035.38" width="11.44" height="11.45" fill="#ff7800"/><rect x="923.37" y="1035.38" width="11.44" height="11.45" fill="#ff7800"/><rect x="934.81" y="1035.38" width="11.44" height="11.45" fill="#ff5c00"/><rect x="946.25" y="1035.38" width="11.44" height="11.45" fill="#ff3a00"/><rect x="1175.09" y="1035.38" width="11.44" height="11.45" fill="#22c9e4"/><rect x="1369.61" y="1035.38" width="11.44" height="11.45" fill="#ff5c00"/><rect x="660.20" y="1023.93" width="11.44" height="11.45" fill="#22c9e4"/><rect x="671.64" y="1023.93" width="11.44" height="11.45" fill="#468dc7"/><rect x="900.48" y="1023.93" width="11.44" height="11.45" fill="#ff1e00"/><rect x="911.92" y="1023.93" width="11.44" height="11.45" fill="#ff7800"/><rect x="934.81" y="1023.93" width="11.44" height="11.45" fill="#ff7800"/><rect x="946.25" y="1023.93" width="11.44" height="11.45" fill="#ff5c00"/><rect x="957.69" y="1023.93" width="11.44" height="11.45" fill="#ff3a00"/><rect x="911.92" y="1012.49" width="11.44" height="11.45" fill="#ff5c00"/><rect x="923.37" y="1012.49" width="11.44" height="11.45" fill="#ff7800"/><rect x="946.25" y="1012.49" width="11.44" height="11.45" fill="#ff0000"/><rect x="957.69" y="1012.49" width="11.44" height="11.45" fill="#ff5c00"/><rect x="969.13" y="1012.49" width="11.44" height="11.45" fill="#0bedf6"/><rect x="980.58" y="1012.49" width="11.44" height="11.45" fill="#22c9e4"/><rect x="992.02" y="1012.49" width="11.44" height="11.45" fill="#ff8e00"/><rect x="1163.65" y="1012.49" width="11.44" height="11.45" fill="#22c9e4"/><rect x="1392.49" y="1012.49" width="22.88" height="11.45" fill="#ff5c00"/><rect x="911.92" y="1001.04" width="11.44" height="11.45" fill="#ff3a00"/><rect x="923.37" y="1001.04" width="11.44" height="11.45" fill="#ff5c00"/><rect x="934.81" y="1001.04" width="11.44" height="11.45" fill="#ff1e00"/><rect x="957.69" y="1001.04" width="11.44" height="11.45" fill="#ff7800"/><rect x="969.13" y="1001.04" width="22.88" height="11.45" fill="#17dbee"/><rect x="992.02" y="1001.04" width="11.44" height="11.45" fill="#ff7800"/><rect x="1003.46" y="1001.04" width="11.44" height="11.45" fill="#ffa500"/><rect x="923.37" y="989.60" width="11.44" height="11.45" fill="#ff3a00"/><rect x="934.81" y="989.60" width="11.44" height="11.45" fill="#ff5c00"/><rect x="946.25" y="989.60" width="11.44" height="11.45" fill="#ff7800"/><rect x="969.13" y="989.60" width="11.44" height="11.45" fill="#ff7800"/><rect x="980.58" y="989.60" width="11.44" height="11.45" fill="#17dbee"/><rect x="992.02" y="989.60" width="11.44" height="11.45" fill="#ff7800"/><rect x="1003.46" y="989.60" width="11.44" height="11.45" fill="#ff3a00"/><rect x="1014.90" y="989.60" width="22.88" height="11.45" fill="#0bedf6"/><rect x="934.81" y="978.15" width="22.88" height="11.45" fill="#17dbee"/><rect x="957.69" y="978.15" width="11.44" height="11.45" fill="#ff7800"/><rect x="980.58" y="978.15" width="11.44" height="11.45" fill="#ff7800"/><rect x="992.02" y="978.15" width="11.44" height="11.45" fill="#17dbee"/><rect x="1003.46" y="978.15" width="11.44" height="11.45" fill="#ff7800"/><rect x="1014.90" y="978.15" width="11.44" height="11.45" fill="#ff5c00"/><rect x="1026.35" y="978.15" width="11.44" height="11.45" fill="#0bedf6"/><rect x="934.81" y="966.70" width="22.88" height="11.45" fill="#22c9e4"/><rect x="957.69" y="966.70" width="11.44" height="11.45" fill="#17dbee"/><rect x="969.13" y="966.70" width="11.44" height="11.45" fill="#ff7800"/><rect x="992.02" y="966.70" width="11.44" height="11.45" fill="#ff7800"/><rect x="1003.46" y="966.70" width="11.44" height="11.45" fill="#17dbee"/><rect x="1014.90" y="966.70" width="11.44" height="11.45" fill="#ff7800"/><rect x="1026.35" y="966.70" width="11.44" height="11.45" fill="#ff3a00"/><rect x="1037.79" y="966.70" width="11.44" height="11.45" fill="#17dbee"/><rect x="1392.49" y="966.70" width="11.44" height="11.45" fill="#17dbee"/><rect x="1403.93" y="966.70" width="11.44" height="11.45" fill="#0bedf6"/><rect x="1415.37" y="966.70" width="11.44" height="11.45" fill="#22c9e4"/><rect x="934.81" y="955.26" width="11.44" height="11.45" fill="#ff8e00"/><rect x="946.25" y="955.26" width="22.88" height="11.45" fill="#ff7800"/><rect x="969.13" y="955.26" width="11.44" height="11.45" fill="#17dbee"/><rect x="980.58" y="955.26" width="11.44" height="11.45" fill="#ff7800"/><rect x="1003.46" y="955.26" width="11.44" height="11.45" fill="#ff7800"/><rect x="1014.90" y="955.26" width="11.44" height="11.45" fill="#17dbee"/><rect x="1026.35" y="955.26" width="11.44" height="11.45" fill="#ff7800"/><rect x="1037.79" y="955.26" width="11.44" height="11.45" fill="#ff5c00"/><rect x="1049.23" y="955.26" width="11.44" height="11.45" fill="#22c9e4"/><rect x="1106.44" y="955.26" width="11.44" height="11.45" fill="#22c9e4"/><rect x="1152.21" y="955.26" width="11.44" height="11.45" fill="#468dc7"/><rect x="1403.93" y="955.26" width="11.44" height="11.45" fill="#ffa500"/><rect x="946.25" y="943.81" width="11.44" height="11.45" fill="#ffa500"/><rect x="957.69" y="943.81" width="11.44" height="11.45" fill="#ff3a00"/><rect x="969.13" y="943.81" width="11.44" height="11.45" fill="#ff7800"/><rect x="980.58" y="943.81" width="11.44" height="11.45" fill="#17dbee"/><rect x="992.02" y="943.81" width="11.44" height="11.45" fill="#ff7800"/><rect x="1014.90" y="943.81" width="11.44" height="11.45" fill="#ff7800"/><rect x="1026.35" y="943.81" width="11.44" height="11.45" fill="#22c9e4"/><rect x="1037.79" y="943.81" width="11.44" height="11.45" fill="#ff7800"/><rect x="1049.23" y="943.81" width="11.44" height="11.45" fill="#ff5c00"/><rect x="1060.67" y="943.81" width="11.44" height="11.45" fill="#22c9e4"/><rect x="1106.44" y="943.81" width="11.44" height="11.45" fill="#2eb7db"/><rect x="957.69" y="932.37" width="11.44" height="11.45" fill="#17dbee"/><rect x="969.13" y="932.37" width="22.88" height="11.45" fill="#ff7800"/><rect x="992.02" y="932.37" width="11.44" height="11.45" fill="#17dbee"/><rect x="1003.46" y="932.37" width="11.44" height="11.45" fill="#ff7800"/><rect x="1026.35" y="932.37" width="22.88" height="11.45" fill="#22c9e4"/><rect x="1049.23" y="932.37" width="11.44" height="11.45" fill="#ff7800"/><rect x="1060.67" y="932.37" width="11.44" height="11.45" fill="#ff5c00"/><rect x="1072.11" y="932.37" width="11.44" height="11.45" fill="#ffa500"/><rect x="957.69" y="920.92" width="22.88" height="11.45" fill="#0bedf6"/><rect x="980.58" y="920.92" width="11.44" height="11.45" fill="#ff3a00"/><rect x="992.02" y="920.92" width="11.44" height="11.45" fill="#ff7800"/><rect x="1003.46" y="920.92" width="22.88" height="11.45" fill="#22c9e4"/><rect x="1037.79" y="920.92" width="11.44" height="11.45" fill="#ff7800"/><rect x="1049.23" y="920.92" width="11.44" height="11.45" fill="#22c9e4"/><rect x="1060.67" y="920.92" width="22.88" height="11.45" fill="#ff7800"/><rect x="1083.56" y="920.92" width="11.44" height="11.45" fill="#ffa500"/><rect x="1095.00" y="920.92" width="11.44" height="11.45" fill="#00ffff"/><rect x="1106.44" y="920.92" width="11.44" height="11.45" fill="#0bedf6"/><rect x="1140.76" y="920.92" width="11.44" height="11.45" fill="#468dc7"/><rect x="1152.21" y="920.92" width="11.44" height="11.45" fill="#22c9e4"/><rect x="1403.93" y="920.92" width="11.44" height="11.45" fill="#17dbee"/><rect x="980.58" y="909.47" width="11.44" height="11.45" fill="#17dbee"/><rect x="992.02" y="909.47" width="11.44" height="11.45" fill="#ff5c00"/><rect x="1003.46" y="909.47" width="11.44" height="11.45" fill="#ff7800"/><rect x="1014.90" y="909.47" width="11.44" height="11.45" fill="#22c9e4"/><rect x="1026.35" y="909.47" width="11.44" height="11.45" fill="#ff7800"/><rect x="1049.23" y="909.47" width="68.65" height="11.45" fill="#22c9e4"/><rect x="992.02" y="898.03" width="11.44" height="11.45" fill="#22c9e4"/><rect x="1003.46" y="898.03" width="11.44" height="11.45" fill="#ff5c00"/><rect x="1014.90" y="898.03" width="11.44" height="11.45" fill="#ff7800"/><rect x="1026.35" y="898.03" width="22.88" height="11.45" fill="#22c9e4"/><rect x="1060.67" y="898.03" width="11.44" height="11.45" fill="#ff7800"/><rect x="1072.11" y="898.03" width="11.44" height="11.45" fill="#22c9e4"/><rect x="1083.56" y="898.03" width="11.44" height="11.45" fill="#2eb7db"/><rect x="1095.00" y="898.03" width="11.44" height="11.45" fill="#39a5d2"/><rect x="1003.46" y="886.58" width="11.44" height="11.45" fill="#22c9e4"/><rect x="1014.90" y="886.58" width="11.44" height="11.45" fill="#ff5c00"/><rect x="1026.35" y="886.58" width="11.44" height="11.45" fill="#ff7800"/><rect x="1037.79" y="886.58" width="11.44" height="11.45" fill="#22c9e4"/><rect x="1049.23" y="886.58" width="11.44" height="11.45" fill="#ff7800"/><rect x="1072.11" y="886.58" width="11.44" height="11.45" fill="#ff7800"/><rect x="1083.56" y="886.58" width="11.44" height="11.45" fill="#ff8e00"/><rect x="1095.00" y="886.58" width="11.44" height="11.45" fill="#22c9e4"/><rect x="1014.90" y="875.13" width="11.44" height="11.45" fill="#ffa500"/><rect x="1026.35" y="875.13" width="11.44" height="11.45" fill="#ff7800"/><rect x="1037.79" y="875.13" width="22.88" height="11.45" fill="#22c9e4"/><rect x="1060.67" y="875.13" width="11.44" height="11.45" fill="#ff7800"/><rect x="1083.56" y="875.13" width="34.33" height="11.45" fill="#ff7800"/><rect x="1026.35" y="863.69" width="11.44" height="11.45" fill="#ffa500"/><rect x="1037.79" y="863.69" width="11.44" height="11.45" fill="#22c9e4"/><rect x="1049.23" y="863.69" width="11.44" height="11.45" fill="#2eb7db"/><rect x="1060.67" y="863.69" width="11.44" height="11.45" fill="#ffa500"/><rect x="1072.11" y="863.69" width="11.44" height="11.45" fill="#ff7800"/><rect x="1095.00" y="863.69" width="11.44" height="11.45" fill="#ff7800"/><rect x="1106.44" y="863.69" width="11.44" height="11.45" fill="#ff3a00"/><rect x="1117.88" y="863.69" width="11.44" height="11.45" fill="#ff8e00"/><rect x="1129.32" y="863.69" width="22.88" height="11.45" fill="#22c9e4"/><rect x="1026.35" y="852.24" width="11.44" height="11.45" fill="#00ffff"/><rect x="1037.79" y="852.24" width="11.44" height="11.45" fill="#22c9e4"/><rect x="1049.23" y="852.24" width="11.44" height="11.45" fill="#39a5d2"/><rect x="1060.67" y="852.24" width="11.44" height="11.45" fill="#22c9e4"/><rect x="1072.11" y="852.24" width="22.88" height="11.45" fill="#ff7800"/><rect x="1106.44" y="852.24" width="11.44" height="11.45" fill="#ff7800"/><rect x="1117.88" y="852.24" width="34.33" height="11.45" fill="#22c9e4"/><rect x="992.02" y="840.80" width="11.44" height="11.45" fill="#22c9e4"/><rect x="1003.46" y="840.80" width="11.44" height="11.45" fill="#2eb7db"/><rect x="1026.35" y="840.80" width="22.88" height="11.45" fill="#22c9e4"/><rect x="1072.11" y="840.80" width="11.44" height="11.45" fill="#ff7800"/><rect x="1083.56" y="840.80" width="11.44" height="11.45" fill="#ff3a00"/><rect x="1095.00" y="840.80" width="11.44" height="11.45" fill="#ff7800"/><rect x="1117.88" y="840.80" width="11.44" height="11.45" fill="#22c9e4"/><rect x="1129.32" y="840.80" width="22.88" height="11.45" fill="#0bedf6"/><rect x="1152.21" y="840.80" width="11.44" height="11.45" fill="#ff7800"/><rect x="1083.56" y="829.35" width="11.44" height="11.45" fill="#ff8e00"/><rect x="1095.00" y="829.35" width="22.88" height="11.45" fill="#22c9e4"/><rect x="1129.32" y="829.35" width="22.88" height="11.45" fill="#0bedf6"/><rect x="1152.21" y="829.35" width="11.44" height="11.45" fill="#ff8e00"/><rect x="1083.56" y="817.90" width="45.77" height="11.45" fill="#22c9e4"/><rect x="1140.76" y="817.90" width="11.44" height="11.45" fill="#ff7800"/><rect x="1152.21" y="817.90" width="11.44" height="11.45" fill="#ffa500"/><rect x="1163.65" y="817.90" width="11.44" height="11.45" fill="#ff7800"/><rect x="1026.35" y="806.46" width="11.44" height="11.45" fill="#468dc7"/><rect x="1083.56" y="806.46" width="22.88" height="11.45" fill="#22c9e4"/><rect x="1106.44" y="806.46" width="22.88" height="11.45" fill="#0bedf6"/><rect x="1129.32" y="806.46" width="11.44" height="11.45" fill="#ff7800"/><rect x="1152.21" y="806.46" width="22.88" height="11.45" fill="#ff7800"/><rect x="1175.09" y="806.46" width="11.44" height="11.45" fill="#ff8e00"/><rect x="992.02" y="795.01" width="11.44" height="11.45" fill="#468dc7"/><rect x="1026.35" y="795.01" width="11.44" height="11.45" fill="#22c9e4"/><rect x="1106.44" y="795.01" width="11.44" height="11.45" fill="#ff7800"/><rect x="1117.88" y="795.01" width="22.88" height="11.45" fill="#ffa500"/><rect x="1140.76" y="795.01" width="11.44" height="11.45" fill="#ff7800"/><rect x="1163.65" y="795.01" width="11.44" height="11.45" fill="#ff7800"/><rect x="1175.09" y="795.01" width="22.88" height="11.45" fill="#00ffff"/><rect x="1392.49" y="795.01" width="11.44" height="11.45" fill="#468dc7"/><rect x="1403.93" y="795.01" width="11.44" height="11.45" fill="#22c9e4"/><rect x="1415.37" y="795.01" width="11.44" height="11.45" fill="#ff8e00"/><rect x="648.76" y="783.57" width="11.44" height="11.45" fill="#2eb7db"/><rect x="660.20" y="783.57" width="11.44" height="11.45" fill="#00ffff"/><rect x="934.81" y="783.57" width="11.44" height="11.45" fill="#22c9e4"/><rect x="1129.32" y="783.57" width="34.33" height="11.45" fill="#ff7800"/><rect x="1175.09" y="783.57" width="11.44" height="11.45" fill="#ff7800"/><rect x="1186.53" y="783.57" width="11.44" height="11.45" fill="#ff8e00"/><rect x="1381.05" y="783.57" width="22.88" height="11.45" fill="#468dc7"/><rect x="1403.93" y="783.57" width="11.44" height="11.45" fill="#22c9e4"/><rect x="637.32" y="772.12" width="22.88" height="11.45" fill="#2eb7db"/><rect x="660.20" y="772.12" width="11.44" height="11.45" fill="#0bedf6"/><rect x="911.92" y="772.12" width="11.44" height="11.45" fill="#22c9e4"/><rect x="1140.76" y="772.12" width="11.44" height="11.45" fill="#ff8e00"/><rect x="1152.21" y="772.12" width="11.44" height="11.45" fill="#00ffff"/><rect x="1163.65" y="772.12" width="11.44" height="11.45" fill="#ff7800"/><rect x="1186.53" y="772.12" width="11.44" height="11.45" fill="#ff7800"/><rect x="1197.97" y="772.12" width="22.88" height="11.45" fill="#ff3a00"/><rect x="1369.61" y="772.12" width="11.44" height="11.45" fill="#2eb7db"/><rect x="1381.05" y="772.12" width="11.44" height="11.45" fill="#468dc7"/><rect x="1392.49" y="772.12" width="11.44" height="11.45" fill="#2eb7db"/><rect x="1403.93" y="772.12" width="11.44" height="11.45" fill="#22c9e4"/><rect x="1415.37" y="772.12" width="11.44" height="11.45" fill="#00ffff"/><rect x="1426.82" y="772.12" width="22.88" height="11.45" fill="#ff7800"/><rect x="625.88" y="760.67" width="11.44" height="11.45" fill="#2eb7db"/><rect x="637.32" y="760.67" width="11.44" height="11.45" fill="#468dc7"/><rect x="648.76" y="760.67" width="11.44" height="11.45" fill="#2eb7db"/><rect x="660.20" y="760.67" width="11.44" height="11.45" fill="#00ffff"/><rect x="1152.21" y="760.67" width="11.44" height="11.45" fill="#00ffff"/><rect x="1163.65" y="760.67" width="11.44" height="11.45" fill="#ff8e00"/><rect x="1175.09" y="760.67" width="11.44" height="11.45" fill="#ff7800"/><rect x="1197.97" y="760.67" width="11.44" height="11.45" fill="#ff7800"/><rect x="1209.42" y="760.67" width="11.44" height="11.45" fill="#ff5c00"/><rect x="1220.86" y="760.67" width="11.44" height="11.45" fill="#ff7800"/><rect x="1358.16" y="760.67" width="22.88" height="11.45" fill="#2eb7db"/><rect x="1381.05" y="760.67" width="22.88" height="11.45" fill="#468dc7"/><rect x="1403.93" y="760.67" width="11.44" height="11.45" fill="#2eb7db"/><rect x="1438.26" y="760.67" width="11.44" height="11.45" fill="#ff7800"/><rect x="454.24" y="749.23" width="11.44" height="11.45" fill="#ff3a00"/><rect x="465.69" y="749.23" width="22.88" height="11.45" fill="#ff5c00"/><rect x="614.43" y="749.23" width="11.44" height="11.45" fill="#22c9e4"/><rect x="625.88" y="749.23" width="11.44" height="11.45" fill="#2eb7db"/><rect x="637.32" y="749.23" width="11.44" height="11.45" fill="#468dc7"/><rect x="648.76" y="749.23" width="11.44" height="11.45" fill="#2eb7db"/><rect x="660.20" y="749.23" width="11.44" height="11.45" fill="#0bedf6"/><rect x="671.64" y="749.23" width="11.44" height="11.45" fill="#ff5c00"/><rect x="683.09" y="749.23" width="11.44" height="11.45" fill="#ff7800"/><rect x="1175.09" y="749.23" width="11.44" height="11.45" fill="#ff3a00"/><rect x="1186.53" y="749.23" width="11.44" height="11.45" fill="#ff7800"/><rect x="1209.42" y="749.23" width="11.44" height="11.45" fill="#ff7800"/><rect x="1220.86" y="749.23" width="11.44" height="11.45" fill="#ff8e00"/><rect x="1232.30" y="749.23" width="11.44" height="11.45" fill="#ff7800"/><rect x="1346.72" y="749.23" width="22.88" height="11.45" fill="#22c9e4"/><rect x="1369.61" y="749.23" width="22.88" height="11.45" fill="#2eb7db"/><rect x="1392.49" y="749.23" width="11.44" height="11.45" fill="#39a5d2"/><rect x="454.24" y="737.78" width="11.44" height="11.45" fill="#ff3a00"/><rect x="465.69" y="737.78" width="11.44" height="11.45" fill="#ff1e00"/><rect x="477.13" y="737.78" width="11.44" height="11.45" fill="#ff5c00"/><rect x="614.43" y="737.78" width="11.44" height="11.45" fill="#22c9e4"/><rect x="625.88" y="737.78" width="22.88" height="11.45" fill="#468dc7"/><rect x="648.76" y="737.78" width="11.44" height="11.45" fill="#2eb7db"/><rect x="1175.09" y="737.78" width="11.44" height="11.45" fill="#ff3a00"/><rect x="1186.53" y="737.78" width="11.44" height="11.45" fill="#ff5c00"/><rect x="1197.97" y="737.78" width="11.44" height="11.45" fill="#ff7800"/><rect x="1220.86" y="737.78" width="22.88" height="11.45" fill="#ff7800"/><rect x="1346.72" y="737.78" width="22.88" height="11.45" fill="#22c9e4"/><rect x="1369.61" y="737.78" width="22.88" height="11.45" fill="#2eb7db"/><rect x="1770.08" y="737.78" width="11.44" height="11.45" fill="#22c9e4"/><rect x="1781.52" y="737.78" width="11.44" height="11.45" fill="#17dbee"/><rect x="465.69" y="726.34" width="11.44" height="11.45" fill="#ff7800"/><rect x="477.13" y="726.34" width="11.44" height="11.45" fill="#ff1e00"/><rect x="488.57" y="726.34" width="11.44" height="11.45" fill="#ff0000"/><rect x="500.01" y="726.34" width="11.44" height="11.45" fill="#ff1e00"/><rect x="602.99" y="726.34" width="45.77" height="11.45" fill="#468dc7"/><rect x="1186.53" y="726.34" width="11.44" height="11.45" fill="#ff7800"/><rect x="1197.97" y="726.34" width="11.44" height="11.45" fill="#ff8e00"/><rect x="1209.42" y="726.34" width="11.44" height="11.45" fill="#ff7800"/><rect x="1232.30" y="726.34" width="11.44" height="11.45" fill="#ff0000"/><rect x="1243.74" y="726.34" width="11.44" height="11.45" fill="#ff1e00"/><rect x="1335.28" y="726.34" width="22.88" height="11.45" fill="#507ebe"/><rect x="1358.16" y="726.34" width="22.88" height="11.45" fill="#468dc7"/><rect x="1770.08" y="726.34" width="11.44" height="11.45" fill="#2eb7db"/><rect x="477.13" y="714.89" width="45.77" height="11.45" fill="#ff1e00"/><rect x="602.99" y="714.89" width="22.88" height="11.45" fill="#468dc7"/><rect x="625.88" y="714.89" width="11.44" height="11.45" fill="#2eb7db"/><rect x="1197.97" y="714.89" width="22.88" height="11.45" fill="#ff7800"/><rect x="1220.86" y="714.89" width="11.44" height="11.45" fill="#ff0000"/><rect x="1243.74" y="714.89" width="11.44" height="11.45" fill="#ff0000"/><rect x="1255.18" y="714.89" width="22.88" height="11.45" fill="#ff1e00"/><rect x="1323.84" y="714.89" width="11.44" height="11.45" fill="#2eb7db"/><rect x="1335.28" y="714.89" width="45.77" height="11.45" fill="#468dc7"/><rect x="1461.14" y="714.89" width="22.88" height="11.45" fill="#ff5c00"/><rect x="1484.03" y="714.89" width="11.44" height="11.45" fill="#ff7800"/><rect x="500.01" y="703.45" width="11.44" height="11.45" fill="#ff1e00"/><rect x="511.45" y="703.45" width="11.44" height="11.45" fill="#ff3a00"/><rect x="522.90" y="703.45" width="11.44" height="11.45" fill="#ff1e00"/><rect x="602.99" y="703.45" width="11.44" height="11.45" fill="#468dc7"/><rect x="1220.86" y="703.45" width="22.88" height="11.45" fill="#ff0000"/><rect x="1255.18" y="703.45" width="11.44" height="11.45" fill="#ff7800"/><rect x="1266.63" y="703.45" width="11.44" height="11.45" fill="#ff1e00"/><rect x="1278.07" y="703.45" width="11.44" height="11.45" fill="#ff7800"/><rect x="1312.39" y="703.45" width="22.88" height="11.45" fill="#2eb7db"/><rect x="1335.28" y="703.45" width="34.33" height="11.45" fill="#468dc7"/><rect x="1484.03" y="703.45" width="11.44" height="11.45" fill="#ff7800"/><rect x="511.45" y="692.00" width="22.88" height="11.45" fill="#ff7800"/><rect x="1232.30" y="692.00" width="11.44" height="11.45" fill="#ff1e00"/><rect x="1243.74" y="692.00" width="11.44" height="11.45" fill="#ff7800"/><rect x="1266.63" y="692.00" width="11.44" height="11.45" fill="#ff7800"/><rect x="1278.07" y="692.00" width="11.44" height="11.45" fill="#ff8e00"/><rect x="1289.51" y="692.00" width="22.88" height="11.45" fill="#22c9e4"/><rect x="1312.39" y="692.00" width="34.33" height="11.45" fill="#2eb7db"/><rect x="1346.72" y="692.00" width="11.44" height="11.45" fill="#468dc7"/><rect x="1484.03" y="692.00" width="11.44" height="11.45" fill="#ff8e00"/><rect x="1495.47" y="692.00" width="11.44" height="11.45" fill="#ffa500"/><rect x="1232.30" y="680.55" width="22.88" height="11.45" fill="#ff1e00"/><rect x="1255.18" y="680.55" width="11.44" height="11.45" fill="#ff7800"/><rect x="1278.07" y="680.55" width="11.44" height="11.45" fill="#ff7800"/><rect x="1289.51" y="680.55" width="22.88" height="11.45" fill="#22c9e4"/><rect x="1312.39" y="680.55" width="34.33" height="11.45" fill="#2eb7db"/><rect x="1484.03" y="680.55" width="11.44" height="11.45" fill="#ff8e00"/><rect x="1495.47" y="680.55" width="11.44" height="11.45" fill="#ffa500"/><rect x="1243.74" y="669.11" width="11.44" height="11.45" fill="#ff7800"/><rect x="1255.18" y="669.11" width="11.44" height="11.45" fill="#ff8e00"/><rect x="1266.63" y="669.11" width="11.44" height="11.45" fill="#ff7800"/><rect x="1289.51" y="669.11" width="11.44" height="11.45" fill="#22c9e4"/><rect x="1300.95" y="669.11" width="11.44" height="11.45" fill="#2eb7db"/><rect x="1312.39" y="669.11" width="22.88" height="11.45" fill="#468dc7"/><rect x="1335.28" y="669.11" width="11.44" height="11.45" fill="#2eb7db"/><rect x="1255.18" y="657.66" width="22.88" height="11.45" fill="#17dbee"/><rect x="1278.07" y="657.66" width="11.44" height="11.45" fill="#22c9e4"/><rect x="1300.95" y="657.66" width="34.33" height="11.45" fill="#22c9e4"/><rect x="1506.91" y="657.66" width="11.44" height="11.45" fill="#ff8e00"/><rect x="1518.35" y="657.66" width="11.44" height="11.45" fill="#ff7800"/><rect x="1255.18" y="646.22" width="22.88" height="11.45" fill="#22c9e4"/><rect x="1278.07" y="646.22" width="11.44" height="11.45" fill="#2eb7db"/><rect x="1289.51" y="646.22" width="11.44" height="11.45" fill="#22c9e4"/><rect x="1312.39" y="646.22" width="22.88" height="11.45" fill="#ff7800"/><rect x="1495.47" y="646.22" width="34.33" height="11.45" fill="#22c9e4"/><rect x="1529.79" y="646.22" width="11.44" height="11.45" fill="#ff7800"/><rect x="1243.74" y="634.77" width="34.33" height="11.45" fill="#2eb7db"/><rect x="1278.07" y="634.77" width="11.44" height="11.45" fill="#468dc7"/><rect x="1289.51" y="634.77" width="11.44" height="11.45" fill="#22c9e4"/><rect x="1300.95" y="634.77" width="11.44" height="11.45" fill="#ff7800"/><rect x="1323.84" y="634.77" width="11.44" height="11.45" fill="#ff7800"/><rect x="1335.28" y="634.77" width="11.44" height="11.45" fill="#ff1e00"/><rect x="1484.03" y="634.77" width="22.88" height="11.45" fill="#468dc7"/><rect x="1506.91" y="634.77" width="11.44" height="11.45" fill="#2eb7db"/><rect x="1518.35" y="634.77" width="11.44" height="11.45" fill="#22c9e4"/><rect x="1529.79" y="634.77" width="11.44" height="11.45" fill="#00ffff"/><rect x="500.01" y="623.32" width="11.44" height="11.45" fill="#468dc7"/><rect x="1232.30" y="623.32" width="45.77" height="11.45" fill="#2eb7db"/><rect x="1278.07" y="623.32" width="11.44" height="11.45" fill="#468dc7"/><rect x="1289.51" y="623.32" width="11.44" height="11.45" fill="#22c9e4"/><rect x="1300.95" y="623.32" width="22.88" height="11.45" fill="#ff7800"/><rect x="1335.28" y="623.32" width="11.44" height="11.45" fill="#ff7800"/><rect x="1346.72" y="623.32" width="11.44" height="11.45" fill="#ff1e00"/><rect x="1472.58" y="623.32" width="34.33" height="11.45" fill="#468dc7"/><rect x="1506.91" y="623.32" width="11.44" height="11.45" fill="#2eb7db"/><rect x="1518.35" y="623.32" width="11.44" height="11.45" fill="#22c9e4"/><rect x="1220.86" y="611.88" width="11.44" height="11.45" fill="#507ebe"/><rect x="1232.30" y="611.88" width="22.88" height="11.45" fill="#468dc7"/><rect x="1255.18" y="611.88" width="34.33" height="11.45" fill="#2eb7db"/><rect x="1312.39" y="611.88" width="11.44" height="11.45" fill="#ff1e00"/><rect x="1323.84" y="611.88" width="11.44" height="11.45" fill="#ff7800"/><rect x="1346.72" y="611.88" width="11.44" height="11.45" fill="#ff7800"/><rect x="1358.16" y="611.88" width="11.44" height="11.45" fill="#ff1e00"/><rect x="1461.14" y="611.88" width="45.77" height="11.45" fill="#468dc7"/><rect x="1506.91" y="611.88" width="11.44" height="11.45" fill="#2eb7db"/><rect x="1758.63" y="611.88" width="11.44" height="11.45" fill="#00ffff"/><rect x="625.88" y="600.43" width="11.44" height="11.45" fill="#ff3a00"/><rect x="1197.97" y="600.43" width="22.88" height="11.45" fill="#22c9e4"/><rect x="1220.86" y="600.43" width="11.44" height="11.45" fill="#507ebe"/><rect x="1232.30" y="600.43" width="34.33" height="11.45" fill="#468dc7"/><rect x="1323.84" y="600.43" width="11.44" height="11.45" fill="#ff1e00"/><rect x="1335.28" y="600.43" width="11.44" height="11.45" fill="#ff7800"/><rect x="1358.16" y="600.43" width="11.44" height="11.45" fill="#ff7800"/><rect x="1369.61" y="600.43" width="11.44" height="11.45" fill="#ff1e00"/><rect x="1449.70" y="600.43" width="45.77" height="11.45" fill="#468dc7"/><rect x="1495.47" y="600.43" width="11.44" height="11.45" fill="#2eb7db"/><rect x="1689.98" y="600.43" width="11.44" height="11.45" fill="#ff7800"/><rect x="1758.63" y="600.43" width="11.44" height="11.45" fill="#ffa500"/><rect x="1770.08" y="600.43" width="11.44" height="11.45" fill="#ff5c00"/><rect x="1186.53" y="588.99" width="11.44" height="11.45" fill="#2eb7db"/><rect x="1197.97" y="588.99" width="22.88" height="11.45" fill="#22c9e4"/><rect x="1220.86" y="588.99" width="34.33" height="11.45" fill="#468dc7"/><rect x="1335.28" y="588.99" width="11.44" height="11.45" fill="#ff1e00"/><rect x="1346.72" y="588.99" width="11.44" height="11.45" fill="#ff7800"/><rect x="1369.61" y="588.99" width="11.44" height="11.45" fill="#ff7800"/><rect x="1381.05" y="588.99" width="11.44" height="11.45" fill="#ff3a00"/><rect x="1438.26" y="588.99" width="45.77" height="11.45" fill="#468dc7"/><rect x="1484.03" y="588.99" width="11.44" height="11.45" fill="#2eb7db"/><rect x="1689.98" y="588.99" width="22.88" height="11.45" fill="#ff8e00"/><rect x="1724.31" y="588.99" width="11.44" height="11.45" fill="#00ffff"/><rect x="1758.63" y="588.99" width="11.44" height="11.45" fill="#00ffff"/><rect x="1770.08" y="588.99" width="11.44" height="11.45" fill="#ff5c00"/><rect x="1781.52" y="588.99" width="11.44" height="11.45" fill="#ff7800"/><rect x="1792.96" y="588.99" width="11.44" height="11.45" fill="#00ffff"/><rect x="911.92" y="577.54" width="11.44" height="11.45" fill="#ff5c00"/><rect x="1175.09" y="577.54" width="45.77" height="11.45" fill="#2eb7db"/><rect x="1220.86" y="577.54" width="22.88" height="11.45" fill="#468dc7"/><rect x="1346.72" y="577.54" width="11.44" height="11.45" fill="#ff3a00"/><rect x="1358.16" y="577.54" width="11.44" height="11.45" fill="#ff7800"/><rect x="1381.05" y="577.54" width="11.44" height="11.45" fill="#ff7800"/><rect x="1392.49" y="577.54" width="11.44" height="11.45" fill="#ff5c00"/><rect x="1403.93" y="577.54" width="11.44" height="11.45" fill="#ff8e00"/><rect x="1426.82" y="577.54" width="45.77" height="11.45" fill="#468dc7"/><rect x="1472.58" y="577.54" width="11.44" height="11.45" fill="#2eb7db"/><rect x="1770.08" y="577.54" width="22.88" height="11.45" fill="#ff7800"/><rect x="1163.65" y="566.09" width="34.33" height="11.45" fill="#468dc7"/><rect x="1197.97" y="566.09" width="22.88" height="11.45" fill="#2eb7db"/><rect x="1358.16" y="566.09" width="11.44" height="11.45" fill="#ff3a00"/><rect x="1369.61" y="566.09" width="11.44" height="11.45" fill="#ff7800"/><rect x="1392.49" y="566.09" width="11.44" height="11.45" fill="#ff7800"/><rect x="1403.93" y="566.09" width="11.44" height="11.45" fill="#ffa500"/><rect x="1415.37" y="566.09" width="11.44" height="11.45" fill="#22c9e4"/><rect x="1426.82" y="566.09" width="34.33" height="11.45" fill="#468dc7"/><rect x="1461.14" y="566.09" width="11.44" height="11.45" fill="#2eb7db"/><rect x="1781.52" y="566.09" width="11.44" height="11.45" fill="#ff7800"/><rect x="934.81" y="554.65" width="11.44" height="11.45" fill="#ff5c00"/><rect x="980.58" y="554.65" width="11.44" height="11.45" fill="#17dbee"/><rect x="1152.21" y="554.65" width="22.88" height="11.45" fill="#468dc7"/><rect x="1175.09" y="554.65" width="11.44" height="11.45" fill="#2eb7db"/><rect x="1186.53" y="554.65" width="11.44" height="11.45" fill="#468dc7"/><rect x="1197.97" y="554.65" width="11.44" height="11.45" fill="#39a5d2"/><rect x="1369.61" y="554.65" width="22.88" height="11.45" fill="#ff5c00"/><rect x="1403.93" y="554.65" width="11.44" height="11.45" fill="#ff7800"/><rect x="1415.37" y="554.65" width="11.44" height="11.45" fill="#22c9e4"/><rect x="1426.82" y="554.65" width="22.88" height="11.45" fill="#468dc7"/><rect x="1449.70" y="554.65" width="11.44" height="11.45" fill="#2eb7db"/><rect x="934.81" y="543.20" width="11.44" height="11.45" fill="#ff5c00"/><rect x="980.58" y="543.20" width="11.44" height="11.45" fill="#0bedf6"/><rect x="992.02" y="543.20" width="11.44" height="11.45" fill="#ffa500"/><rect x="1026.35" y="543.20" width="11.44" height="11.45" fill="#17dbee"/><rect x="1152.21" y="543.20" width="34.33" height="11.45" fill="#22c9e4"/><rect x="1186.53" y="543.20" width="11.44" height="11.45" fill="#2eb7db"/><rect x="1369.61" y="543.20" width="11.44" height="11.45" fill="#ff8e00"/><rect x="1381.05" y="543.20" width="11.44" height="11.45" fill="#ffa500"/><rect x="1392.49" y="543.20" width="11.44" height="11.45" fill="#ff7800"/><rect x="1415.37" y="543.20" width="34.33" height="11.45" fill="#22c9e4"/><rect x="980.58" y="531.75" width="11.44" height="11.45" fill="#22c9e4"/><rect x="1152.21" y="531.75" width="11.44" height="11.45" fill="#ff8e00"/><rect x="1175.09" y="531.75" width="11.44" height="11.45" fill="#00ffff"/><rect x="1381.05" y="531.75" width="34.33" height="11.45" fill="#17dbee"/><rect x="1426.82" y="531.75" width="11.44" height="11.45" fill="#22c9e4"/><rect x="1438.26" y="531.75" width="22.88" height="11.45" fill="#ffa500"/><rect x="1175.09" y="520.31" width="11.44" height="11.45" fill="#ff7800"/><rect x="1369.61" y="520.31" width="34.33" height="11.45" fill="#468dc7"/><rect x="1403.93" y="520.31" width="22.88" height="11.45" fill="#22c9e4"/><rect x="1438.26" y="520.31" width="11.44" height="11.45" fill="#ff7800"/><rect x="1449.70" y="520.31" width="11.44" height="11.45" fill="#ff1e00"/><rect x="1175.09" y="508.86" width="22.88" height="11.45" fill="#ff7800"/><rect x="1358.16" y="508.86" width="45.77" height="11.45" fill="#468dc7"/><rect x="1403.93" y="508.86" width="11.44" height="11.45" fill="#22c9e4"/><rect x="1415.37" y="508.86" width="11.44" height="11.45" fill="#ffa500"/><rect x="1426.82" y="508.86" width="11.44" height="11.45" fill="#ff7800"/><rect x="1449.70" y="508.86" width="11.44" height="11.45" fill="#ff7800"/><rect x="1461.14" y="508.86" width="11.44" height="11.45" fill="#ff1e00"/><rect x="1701.42" y="508.86" width="11.44" height="11.45" fill="#2eb7db"/><rect x="1712.87" y="508.86" width="22.88" height="11.45" fill="#22c9e4"/><rect x="1346.72" y="497.42" width="57.21" height="11.45" fill="#468dc7"/><rect x="1415.37" y="497.42" width="11.44" height="11.45" fill="#ffa500"/><rect x="1426.82" y="497.42" width="11.44" height="11.45" fill="#ff1e00"/><rect x="1438.26" y="497.42" width="11.44" height="11.45" fill="#ff7800"/><rect x="1461.14" y="497.42" width="11.44" height="11.45" fill="#ff7800"/><rect x="1472.58" y="497.42" width="11.44" height="11.45" fill="#ff1e00"/><rect x="1689.98" y="497.42" width="22.88" height="11.45" fill="#2eb7db"/><rect x="1712.87" y="497.42" width="11.44" height="11.45" fill="#39a5d2"/><rect x="1724.31" y="497.42" width="22.88" height="11.45" fill="#22c9e4"/><rect x="1232.30" y="485.97" width="11.44" height="11.45" fill="#ff5c00"/><rect x="1335.28" y="485.97" width="45.77" height="11.45" fill="#468dc7"/><rect x="1381.05" y="485.97" width="11.44" height="11.45" fill="#2eb7db"/><rect x="1438.26" y="485.97" width="11.44" height="11.45" fill="#ff1e00"/><rect x="1449.70" y="485.97" width="11.44" height="11.45" fill="#ff7800"/><rect x="1472.58" y="485.97" width="11.44" height="11.45" fill="#ff7800"/><rect x="1484.03" y="485.97" width="11.44" height="11.45" fill="#ff1e00"/><rect x="1678.54" y="485.97" width="34.33" height="11.45" fill="#468dc7"/><rect x="1712.87" y="485.97" width="22.88" height="11.45" fill="#2eb7db"/><rect x="1232.30" y="474.52" width="11.44" height="11.45" fill="#ff5c00"/><rect x="1323.84" y="474.52" width="45.77" height="11.45" fill="#468dc7"/><rect x="1369.61" y="474.52" width="11.44" height="11.45" fill="#2eb7db"/><rect x="1449.70" y="474.52" width="11.44" height="11.45" fill="#ff1e00"/><rect x="1461.14" y="474.52" width="11.44" height="11.45" fill="#ff7800"/><rect x="1484.03" y="474.52" width="11.44" height="11.45" fill="#ff7800"/><rect x="1495.47" y="474.52" width="11.44" height="11.45" fill="#ff1e00"/><rect x="1667.10" y="474.52" width="11.44" height="11.45" fill="#22c9e4"/><rect x="1678.54" y="474.52" width="11.44" height="11.45" fill="#2eb7db"/><rect x="1689.98" y="474.52" width="11.44" height="11.45" fill="#468dc7"/><rect x="1701.42" y="474.52" width="22.88" height="11.45" fill="#2eb7db"/><rect x="1232.30" y="463.08" width="22.88" height="11.45" fill="#ff7800"/><rect x="1255.18" y="463.08" width="22.88" height="11.45" fill="#ff8e00"/><rect x="1312.39" y="463.08" width="34.33" height="11.45" fill="#468dc7"/><rect x="1346.72" y="463.08" width="22.88" height="11.45" fill="#2eb7db"/><rect x="1461.14" y="463.08" width="11.44" height="11.45" fill="#ff1e00"/><rect x="1472.58" y="463.08" width="11.44" height="11.45" fill="#ff7800"/><rect x="1495.47" y="463.08" width="11.44" height="11.45" fill="#ff7800"/><rect x="1506.91" y="463.08" width="11.44" height="11.45" fill="#ff1e00"/><rect x="1678.54" y="463.08" width="11.44" height="11.45" fill="#22c9e4"/><rect x="1689.98" y="463.08" width="22.88" height="11.45" fill="#2eb7db"/><rect x="1255.18" y="451.63" width="22.88" height="11.45" fill="#ffa500"/><rect x="1300.95" y="451.63" width="11.44" height="11.45" fill="#22c9e4"/><rect x="1312.39" y="451.63" width="11.44" height="11.45" fill="#2eb7db"/><rect x="1323.84" y="451.63" width="11.44" height="11.45" fill="#468dc7"/><rect x="1335.28" y="451.63" width="22.88" height="11.45" fill="#2eb7db"/><rect x="1472.58" y="451.63" width="11.44" height="11.45" fill="#ff1e00"/><rect x="1484.03" y="451.63" width="11.44" height="11.45" fill="#ff7800"/><rect x="1506.91" y="451.63" width="11.44" height="11.45" fill="#ff7800"/><rect x="1518.35" y="451.63" width="11.44" height="11.45" fill="#ff1e00"/><rect x="1529.79" y="451.63" width="11.44" height="11.45" fill="#ff8e00"/><rect x="1541.24" y="451.63" width="34.33" height="11.45" fill="#2eb7db"/><rect x="1575.56" y="451.63" width="22.88" height="11.45" fill="#22c9e4"/><rect x="1289.51" y="440.19" width="11.44" height="11.45" fill="#ff8e00"/><rect x="1300.95" y="440.19" width="11.44" height="11.45" fill="#22c9e4"/><rect x="1312.39" y="440.19" width="34.33" height="11.45" fill="#2eb7db"/><rect x="1484.03" y="440.19" width="11.44" height="11.45" fill="#ff1e00"/><rect x="1495.47" y="440.19" width="11.44" height="11.45" fill="#ff7800"/><rect x="1518.35" y="440.19" width="11.44" height="11.45" fill="#ff7800"/><rect x="1529.79" y="440.19" width="11.44" height="11.45" fill="#0bedf6"/><rect x="1541.24" y="440.19" width="11.44" height="11.45" fill="#22c9e4"/><rect x="1552.68" y="440.19" width="22.88" height="11.45" fill="#468dc7"/><rect x="1575.56" y="440.19" width="22.88" height="11.45" fill="#22c9e4"/><rect x="1289.51" y="428.74" width="11.44" height="11.45" fill="#ff7800"/><rect x="1300.95" y="428.74" width="11.44" height="11.45" fill="#22c9e4"/><rect x="1312.39" y="428.74" width="22.88" height="11.45" fill="#2eb7db"/><rect x="1495.47" y="428.74" width="11.44" height="11.45" fill="#ff1e00"/><rect x="1506.91" y="428.74" width="11.44" height="11.45" fill="#ff7800"/><rect x="1529.79" y="428.74" width="11.44" height="11.45" fill="#0bedf6"/><rect x="1541.24" y="428.74" width="11.44" height="11.45" fill="#22c9e4"/><rect x="1552.68" y="428.74" width="11.44" height="11.45" fill="#2eb7db"/><rect x="1300.95" y="417.29" width="11.44" height="11.45" fill="#ff7800"/><rect x="1312.39" y="417.29" width="11.44" height="11.45" fill="#00ffff"/><rect x="1495.47" y="417.29" width="11.44" height="11.45" fill="#ff8e00"/><rect x="1506.91" y="417.29" width="11.44" height="11.45" fill="#0bedf6"/><rect x="1518.35" y="417.29" width="11.44" height="11.45" fill="#17dbee"/><rect x="1541.24" y="417.29" width="11.44" height="11.45" fill="#22c9e4"/><rect x="1552.68" y="417.29" width="11.44" height="11.45" fill="#00ffff"/><rect x="1564.12" y="417.29" width="11.44" height="11.45" fill="#0bedf6"/><rect x="1495.47" y="405.85" width="45.77" height="11.45" fill="#22c9e4"/><rect x="1552.68" y="405.85" width="11.44" height="11.45" fill="#ff7800"/><rect x="1564.12" y="405.85" width="11.44" height="11.45" fill="#ff8e00"/><rect x="1575.56" y="405.85" width="11.44" height="11.45" fill="#00ffff"/><rect x="866.16" y="394.40" width="11.44" height="11.45" fill="#ff5c00"/><rect x="1495.47" y="394.40" width="11.44" height="11.45" fill="#2eb7db"/><rect x="1506.91" y="394.40" width="11.44" height="11.45" fill="#468dc7"/><rect x="1518.35" y="394.40" width="11.44" height="11.45" fill="#22c9e4"/><rect x="1529.79" y="394.40" width="11.44" height="11.45" fill="#00ffff"/><rect x="1541.24" y="394.40" width="11.44" height="11.45" fill="#ff7800"/><rect x="1564.12" y="394.40" width="11.44" height="11.45" fill="#ff7800"/><rect x="1575.56" y="394.40" width="11.44" height="11.45" fill="#ff8e00"/><rect x="1587.00" y="394.40" width="11.44" height="11.45" fill="#ffa500"/><rect x="1495.47" y="382.96" width="11.44" height="11.45" fill="#2eb7db"/><rect x="1506.91" y="382.96" width="11.44" height="11.45" fill="#468dc7"/><rect x="1529.79" y="382.96" width="11.44" height="11.45" fill="#22c9e4"/><rect x="1541.24" y="382.96" width="11.44" height="11.45" fill="#ff8e00"/><rect x="1552.68" y="382.96" width="11.44" height="11.45" fill="#ff7800"/><rect x="1575.56" y="382.96" width="34.33" height="11.45" fill="#ff7800"/><rect x="889.04" y="371.51" width="11.44" height="11.45" fill="#ff5c00"/><rect x="1495.47" y="371.51" width="22.88" height="11.45" fill="#22c9e4"/><rect x="1541.24" y="371.51" width="11.44" height="11.45" fill="#00ffff"/><rect x="1552.68" y="371.51" width="11.44" height="11.45" fill="#ff8e00"/><rect x="1564.12" y="371.51" width="11.44" height="11.45" fill="#ff7800"/><rect x="1587.00" y="371.51" width="22.88" height="11.45" fill="#ff7800"/><rect x="1667.10" y="371.51" width="22.88" height="11.45" fill="#22c9e4"/><rect x="1495.47" y="360.06" width="22.88" height="11.45" fill="#22c9e4"/><rect x="1552.68" y="360.06" width="11.44" height="11.45" fill="#ffa500"/><rect x="1564.12" y="360.06" width="22.88" height="11.45" fill="#ff7800"/><rect x="1598.44" y="360.06" width="11.44" height="11.45" fill="#ff7800"/><rect x="1609.89" y="360.06" width="11.44" height="11.45" fill="#ff5c00"/><rect x="1655.65" y="360.06" width="11.44" height="11.45" fill="#22c9e4"/><rect x="1667.10" y="360.06" width="11.44" height="11.45" fill="#39a5d2"/><rect x="1678.54" y="360.06" width="11.44" height="11.45" fill="#22c9e4"/><rect x="1564.12" y="348.62" width="11.44" height="11.45" fill="#ff7800"/><rect x="1575.56" y="348.62" width="11.44" height="11.45" fill="#ff5c00"/><rect x="1587.00" y="348.62" width="11.44" height="11.45" fill="#ff7800"/><rect x="1609.89" y="348.62" width="11.44" height="11.45" fill="#ff7800"/><rect x="1621.33" y="348.62" width="11.44" height="11.45" fill="#ff5c00"/><rect x="1632.77" y="348.62" width="11.44" height="11.45" fill="#22c9e4"/><rect x="1644.21" y="348.62" width="11.44" height="11.45" fill="#2eb7db"/><rect x="1655.65" y="348.62" width="34.33" height="11.45" fill="#22c9e4"/><rect x="1587.00" y="337.17" width="11.44" height="11.45" fill="#ff5c00"/><rect x="1598.44" y="337.17" width="11.44" height="11.45" fill="#ff7800"/><rect x="1621.33" y="337.17" width="22.88" height="11.45" fill="#22c9e4"/><rect x="1644.21" y="337.17" width="11.44" height="11.45" fill="#507ebe"/><rect x="1655.65" y="337.17" width="11.44" height="11.45" fill="#2eb7db"/><rect x="1667.10" y="337.17" width="22.88" height="11.45" fill="#22c9e4"/><rect x="1598.44" y="325.73" width="11.44" height="11.45" fill="#ff5c00"/><rect x="1609.89" y="325.73" width="11.44" height="11.45" fill="#22c9e4"/><rect x="1632.77" y="325.73" width="22.88" height="11.45" fill="#22c9e4"/><rect x="1655.65" y="325.73" width="11.44" height="11.45" fill="#2eb7db"/><rect x="1667.10" y="325.73" width="11.44" height="11.45" fill="#468dc7"/><rect x="1598.44" y="314.28" width="34.33" height="11.45" fill="#22c9e4"/><rect x="1644.21" y="314.28" width="11.44" height="11.45" fill="#ff7800"/><rect x="1655.65" y="314.28" width="11.44" height="11.45" fill="#ffa500"/><rect x="1667.10" y="314.28" width="11.44" height="11.45" fill="#22c9e4"/><rect x="1598.44" y="302.83" width="11.44" height="11.45" fill="#2eb7db"/><rect x="1609.89" y="302.83" width="11.44" height="11.45" fill="#507ebe"/><rect x="1621.33" y="302.83" width="11.44" height="11.45" fill="#22c9e4"/><rect x="1632.77" y="302.83" width="11.44" height="11.45" fill="#ff7800"/><rect x="1655.65" y="302.83" width="22.88" height="11.45" fill="#ff7800"/><rect x="1678.54" y="302.83" width="11.44" height="11.45" fill="#ff8e00"/><rect x="1587.00" y="291.39" width="11.44" height="11.45" fill="#22c9e4"/><rect x="1598.44" y="291.39" width="34.33" height="11.45" fill="#2eb7db"/><rect x="1632.77" y="291.39" width="11.44" height="11.45" fill="#ffa500"/><rect x="1644.21" y="291.39" width="11.44" height="11.45" fill="#ff7800"/><rect x="1667.10" y="291.39" width="11.44" height="11.45" fill="#ff7800"/><rect x="1678.54" y="291.39" width="11.44" height="11.45" fill="#ff3a00"/><rect x="1472.58" y="279.94" width="11.44" height="11.45" fill="#22c9e4"/><rect x="1575.56" y="279.94" width="11.44" height="11.45" fill="#22c9e4"/><rect x="1587.00" y="279.94" width="11.44" height="11.45" fill="#2eb7db"/><rect x="1598.44" y="279.94" width="22.88" height="11.45" fill="#22c9e4"/><rect x="1621.33" y="279.94" width="11.44" height="11.45" fill="#468dc7"/><rect x="1632.77" y="279.94" width="11.44" height="11.45" fill="#22c9e4"/><rect x="1644.21" y="279.94" width="22.88" height="11.45" fill="#ff7800"/><rect x="1678.54" y="279.94" width="11.44" height="11.45" fill="#ff7800"/><rect x="1689.98" y="279.94" width="11.44" height="11.45" fill="#ff1e00"/><rect x="1461.14" y="268.50" width="11.44" height="11.45" fill="#468dc7"/><rect x="1472.58" y="268.50" width="11.44" height="11.45" fill="#2eb7db"/><rect x="1484.03" y="268.50" width="11.44" height="11.45" fill="#22c9e4"/><rect x="1575.56" y="268.50" width="45.77" height="11.45" fill="#22c9e4"/><rect x="1644.21" y="268.50" width="11.44" height="11.45" fill="#ff8e00"/><rect x="1655.65" y="268.50" width="11.44" height="11.45" fill="#ff3a00"/><rect x="1667.10" y="268.50" width="11.44" height="11.45" fill="#ff7800"/><rect x="1689.98" y="268.50" width="11.44" height="11.45" fill="#ff7800"/><rect x="1701.42" y="268.50" width="11.44" height="11.45" fill="#ff1e00"/><rect x="1346.72" y="257.05" width="11.44" height="11.45" fill="#ff7800"/><rect x="1358.16" y="257.05" width="11.44" height="11.45" fill="#ff8e00"/><rect x="1449.70" y="257.05" width="11.44" height="11.45" fill="#2eb7db"/><rect x="1461.14" y="257.05" width="22.88" height="11.45" fill="#468dc7"/><rect x="1484.03" y="257.05" width="11.44" height="11.45" fill="#2eb7db"/><rect x="1667.10" y="257.05" width="11.44" height="11.45" fill="#ff3a00"/><rect x="1678.54" y="257.05" width="11.44" height="11.45" fill="#ff7800"/><rect x="1701.42" y="257.05" width="11.44" height="11.45" fill="#ff7800"/><rect x="1712.87" y="257.05" width="11.44" height="11.45" fill="#ff1e00"/><rect x="1358.16" y="245.61" width="11.44" height="11.45" fill="#ff8e00"/><rect x="1438.26" y="245.61" width="22.88" height="11.45" fill="#2eb7db"/><rect x="1461.14" y="245.61" width="11.44" height="11.45" fill="#468dc7"/><rect x="1472.58" y="245.61" width="22.88" height="11.45" fill="#2eb7db"/><rect x="1678.54" y="245.61" width="11.44" height="11.45" fill="#ff3a00"/><rect x="1689.98" y="245.61" width="11.44" height="11.45" fill="#ff7800"/><rect x="1712.87" y="245.61" width="11.44" height="11.45" fill="#ff7800"/><rect x="1724.31" y="245.61" width="11.44" height="11.45" fill="#ff3a00"/><rect x="1735.75" y="245.61" width="11.44" height="11.45" fill="#ff8e00"/><rect x="1438.26" y="234.16" width="11.44" height="11.45" fill="#22c9e4"/><rect x="1449.70" y="234.16" width="11.44" height="11.45" fill="#39a5d2"/><rect x="1461.14" y="234.16" width="22.88" height="11.45" fill="#2eb7db"/><rect x="1689.98" y="234.16" width="11.44" height="11.45" fill="#ff1e00"/><rect x="1701.42" y="234.16" width="11.44" height="11.45" fill="#ff7800"/><rect x="1724.31" y="234.16" width="11.44" height="11.45" fill="#ff7800"/><rect x="1735.75" y="234.16" width="11.44" height="11.45" fill="#ff8e00"/><rect x="1747.19" y="234.16" width="11.44" height="11.45" fill="#22c9e4"/><rect x="1358.16" y="222.71" width="11.44" height="11.45" fill="#00ffff"/><rect x="1438.26" y="222.71" width="22.88" height="11.45" fill="#22c9e4"/><rect x="1461.14" y="222.71" width="11.44" height="11.45" fill="#2eb7db"/><rect x="1701.42" y="222.71" width="11.44" height="11.45" fill="#ff3a00"/><rect x="1712.87" y="222.71" width="11.44" height="11.45" fill="#ff7800"/><rect x="1735.75" y="222.71" width="11.44" height="11.45" fill="#ff7800"/><rect x="1747.19" y="222.71" width="11.44" height="11.45" fill="#00ffff"/><rect x="1758.63" y="222.71" width="11.44" height="11.45" fill="#0bedf6"/><rect x="1770.08" y="222.71" width="11.44" height="11.45" fill="#00ffff"/><rect x="1781.52" y="222.71" width="11.44" height="11.45" fill="#17dbee"/><rect x="1449.70" y="211.27" width="11.44" height="11.45" fill="#22c9e4"/><rect x="1701.42" y="211.27" width="22.88" height="11.45" fill="#ffa500"/><rect x="1724.31" y="211.27" width="11.44" height="11.45" fill="#ff7800"/><rect x="1747.19" y="211.27" width="22.88" height="11.45" fill="#22c9e4"/><rect x="1770.08" y="211.27" width="11.44" height="11.45" fill="#2eb7db"/><rect x="1712.87" y="199.82" width="11.44" height="11.45" fill="#17dbee"/><rect x="1724.31" y="199.82" width="11.44" height="11.45" fill="#00ffff"/><rect x="1735.75" y="199.82" width="11.44" height="11.45" fill="#17dbee"/><rect x="1758.63" y="199.82" width="11.44" height="11.45" fill="#22c9e4"/><rect x="1770.08" y="199.82" width="11.44" height="11.45" fill="#ffa500"/><rect x="1781.52" y="199.82" width="11.44" height="11.45" fill="#17dbee"/><rect x="1335.28" y="188.38" width="11.44" height="11.45" fill="#00ffff"/><rect x="1346.72" y="188.38" width="11.44" height="11.45" fill="#ffa500"/><rect x="1358.16" y="188.38" width="11.44" height="11.45" fill="#00ffff"/><rect x="1724.31" y="188.38" width="22.88" height="11.45" fill="#17dbee"/><rect x="1747.19" y="188.38" width="11.44" height="11.45" fill="#22c9e4"/><rect x="1770.08" y="188.38" width="11.44" height="11.45" fill="#ff7800"/><rect x="1781.52" y="188.38" width="11.44" height="11.45" fill="#ff8e00"/><rect x="1792.96" y="188.38" width="11.44" height="11.45" fill="#ff5c00"/><rect x="1209.42" y="176.93" width="11.44" height="11.45" fill="#22c9e4"/><rect x="1220.86" y="176.93" width="11.44" height="11.45" fill="#2eb7db"/><rect x="1346.72" y="176.93" width="22.88" height="11.45" fill="#ff5c00"/><rect x="1369.61" y="176.93" width="11.44" height="11.45" fill="#ff7800"/><rect x="1724.31" y="176.93" width="11.44" height="11.45" fill="#00ffff"/><rect x="1735.75" y="176.93" width="11.44" height="11.45" fill="#22c9e4"/><rect x="1747.19" y="176.93" width="11.44" height="11.45" fill="#ffa500"/><rect x="1758.63" y="176.93" width="11.44" height="11.45" fill="#ff7800"/><rect x="1781.52" y="176.93" width="11.44" height="11.45" fill="#ff7800"/><rect x="1792.96" y="176.93" width="11.44" height="11.45" fill="#ff5c00"/><rect x="1804.40" y="176.93" width="11.44" height="11.45" fill="#ff3a00"/><rect x="1209.42" y="165.48" width="11.44" height="11.45" fill="#17dbee"/><rect x="1358.16" y="165.48" width="34.33" height="11.45" fill="#ff7800"/><rect x="1724.31" y="165.48" width="11.44" height="11.45" fill="#17dbee"/><rect x="1747.19" y="165.48" width="11.44" height="11.45" fill="#22c9e4"/><rect x="1758.63" y="165.48" width="11.44" height="11.45" fill="#ff8e00"/><rect x="1770.08" y="165.48" width="11.44" height="11.45" fill="#ff7800"/><rect x="1792.96" y="165.48" width="11.44" height="11.45" fill="#ff7800"/><rect x="1804.40" y="165.48" width="11.44" height="11.45" fill="#ff5c00"/><rect x="1815.84" y="165.48" width="11.44" height="11.45" fill="#ff7800"/><rect x="1358.16" y="154.04" width="11.44" height="11.45" fill="#00ffff"/><rect x="1758.63" y="154.04" width="22.88" height="11.45" fill="#ff5c00"/><rect x="1781.52" y="154.04" width="11.44" height="11.45" fill="#ff7800"/><rect x="1804.40" y="154.04" width="11.44" height="11.45" fill="#ff7800"/><rect x="1815.84" y="154.04" width="11.44" height="11.45" fill="#ff5c00"/><rect x="1827.28" y="154.04" width="11.44" height="11.45" fill="#ff8e00"/><rect x="1770.08" y="142.59" width="11.44" height="11.45" fill="#ff3a00"/><rect x="1781.52" y="142.59" width="22.88" height="11.45" fill="#ff7800"/><rect x="1815.84" y="142.59" width="11.44" height="11.45" fill="#ff7800"/><rect x="1827.28" y="142.59" width="11.44" height="11.45" fill="#ff8e00"/><rect x="1781.52" y="131.14" width="11.44" height="11.45" fill="#ff7800"/><rect x="1792.96" y="131.14" width="11.44" height="11.45" fill="#ff5c00"/><rect x="1804.40" y="131.14" width="11.44" height="11.45" fill="#ff7800"/><rect x="1827.28" y="131.14" width="11.44" height="11.45" fill="#ff7800"/><rect x="1792.96" y="119.70" width="11.44" height="11.45" fill="#ff8e00"/><rect x="1804.40" y="119.70" width="11.44" height="11.45" fill="#ffa500"/><rect x="1815.84" y="119.70" width="11.44" height="11.45" fill="#ff7800"/></g>
<g shape-rendering="crispEdges"><rect x="1860" y="1654.62" width="17" height="102.67" fill="#ff0000"/><rect x="1860" y="1552.25" width="17" height="102.67" fill="#ff1e00"/><rect x="1860" y="1449.88" width="17" height="102.67" fill="#ff3a00"/><rect x="1860" y="1347.50" width="17" height="102.67" fill="#ff5c00"/><rect x="1860" y="1245.12" width="17" height="102.67" fill="#ff7800"/><rect x="1860" y="1142.75" width="17" height="102.67" fill="#ff8e00"/><rect x="1860" y="1040.38" width="17" height="102.67" fill="#ffa500"/><rect x="1860" y="938.00" width="17" height="102.67" fill="#00ffff"/><rect x="1860" y="835.62" width="17" height="102.67" fill="#0bedf6"/><rect x="1860" y="733.25" width="17" height="102.67" fill="#17dbee"/><rect x="1860" y="630.88" width="17" height="102.67" fill="#22c9e4"/><rect x="1860" y="528.50" width="17" height="102.67" fill="#2eb7db"/><rect x="1860" y="426.12" width="17" height="102.67" fill="#39a5d2"/><rect x="1860" y="323.75" width="17" height="102.67" fill="#468dc7"/><rect x="1860" y="221.38" width="17" height="102.67" fill="#507ebe"/><rect x="1860" y="119.00" width="17" height="102.67" fill="#ffffff"/></g>
<rect x="202.52" y="119.70" width="1636.21" height="1636.78" fill="none" stroke="#000" stroke-width="5.8" stroke-linejoin="round"/>
<rect x="1862.3" y="119.70" width="12.1" height="1636.78" fill="none" stroke="#000" stroke-width="5.8" stroke-linejoin="round"/>
<path d="M768.90 1754.48V1761.98M768.90 121.70V114.20M204.52 1189.90H196.02M1836.73 1189.90H1844.23M1341.00 1754.48V1761.98M1341.00 121.70V114.20M204.52 617.60H196.02M1836.73 617.60H1844.23M1875.0 1696.90H1880.0M1875.0 1286.60H1880.0M1875.0 876.30H1880.0M1875.0 466.00H1880.0" stroke="#000" stroke-width="5.8" stroke-linecap="round" fill="none"/>
<text transform="translate(1021.40 1867.70) scale(1 1.075)" font-family="Liberation Sans" font-weight="bold" font-size="59.80" text-anchor="middle">Residue index</text>
<text transform="translate(768.90 1812.50) scale(1 1.076)" font-family="Liberation Sans" font-weight="bold" font-size="59.80" text-anchor="middle">50</text>
<text transform="translate(1341.00 1812.50) scale(1 1.076)" font-family="Liberation Sans" font-weight="bold" font-size="59.80" text-anchor="middle">100</text>
<text transform="translate(191.50 639.60) scale(1 1.076)" font-family="Liberation Sans" font-weight="bold" font-size="59.80" text-anchor="end">100</text>
<text transform="translate(191.50 1211.90) scale(1 1.076)" font-family="Liberation Sans" font-weight="bold" font-size="59.80" text-anchor="end">50</text>
<text transform="translate(79.80 937.70) rotate(-90) scale(1 1.075)" font-family="Liberation Sans" font-weight="bold" font-size="59.80" text-anchor="middle">Residue index</text>
<text transform="translate(1882.80 1714.50) scale(1 1.030)" font-family="Liberation Sans" font-weight="bold" font-size="49.00" text-anchor="start">0</text>
<text transform="translate(1882.80 1304.20) scale(1 1.030)" font-family="Liberation Sans" font-weight="bold" font-size="49.00" text-anchor="start">50</text>
<text transform="translate(1882.80 893.90) scale(1 1.030)" font-family="Liberation Sans" font-weight="bold" font-size="49.00" text-anchor="start">100</text>
<text transform="translate(1882.80 483.60) scale(1 1.030)" font-family="Liberation Sans" font-weight="bold" font-size="49.00" text-anchor="start">150</text>
</svg>
</body></html>
